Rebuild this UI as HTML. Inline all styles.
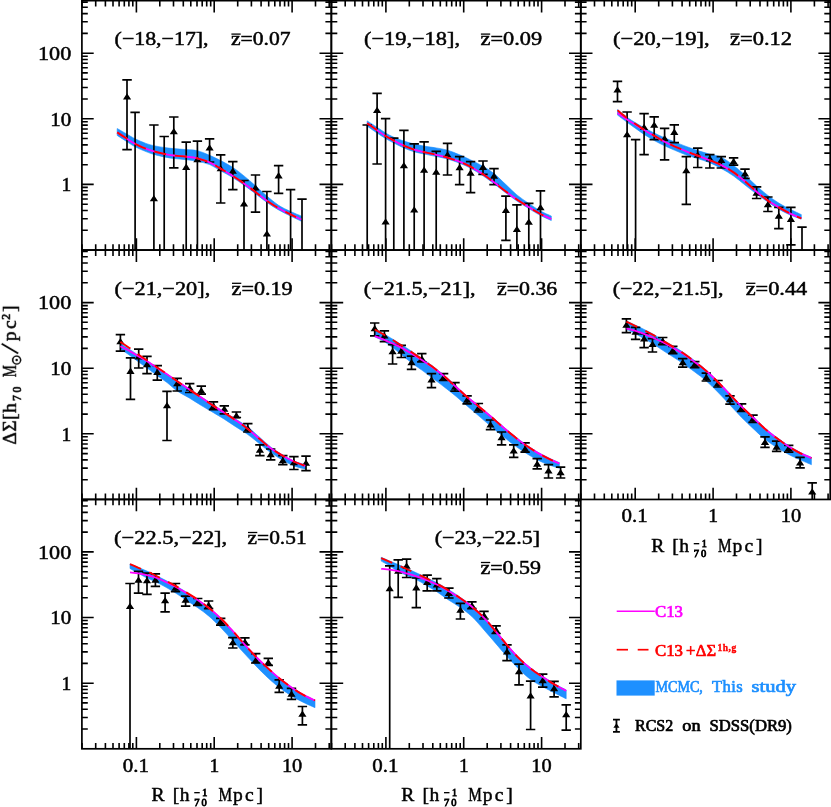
<!DOCTYPE html><html><head><meta charset="utf-8"><style>html,body{margin:0;padding:0;background:#fff}svg{display:block}</style></head><body><svg width="831" height="807" viewBox="0 0 831 807">
<rect width="831" height="807" fill="#fff"/>
<clipPath id="cp0"><rect x="81.90" y="0.65" width="249.40" height="249.40"/></clipPath>
<g clip-path="url(#cp0)">
<path d="M117.20,128.50 C118.84,129.45 124.07,132.48 127.05,134.20 C130.03,135.92 131.96,137.27 135.10,138.80 C138.24,140.33 142.77,142.25 145.90,143.40 C149.03,144.55 150.85,145.02 153.90,145.70 C156.95,146.38 160.88,147.02 164.20,147.50 C167.52,147.98 170.13,148.25 173.80,148.60 C177.47,148.95 182.27,149.25 186.20,149.60 C190.13,149.95 193.50,149.75 197.40,150.70 C201.30,151.65 205.73,153.65 209.60,155.30 C213.47,156.95 216.73,158.58 220.60,160.60 C224.47,162.62 228.90,164.85 232.80,167.40 C236.70,169.95 240.22,172.83 244.00,175.90 C247.78,178.97 251.68,182.43 255.50,185.80 C259.32,189.17 263.05,192.85 266.90,196.10 C270.75,199.35 274.65,202.73 278.60,205.30 C282.55,207.87 286.82,209.72 290.60,211.50 C294.38,213.28 299.52,215.25 301.30,216.00 L301.30,221.20 C299.52,220.35 294.38,217.98 290.60,216.10 C286.82,214.22 282.55,212.18 278.60,209.90 C274.65,207.62 270.75,205.10 266.90,202.40 C263.05,199.70 259.32,196.57 255.50,193.70 C251.68,190.83 247.78,187.88 244.00,185.20 C240.22,182.52 236.70,180.00 232.80,177.60 C228.90,175.20 224.47,172.97 220.60,170.80 C216.73,168.63 213.47,166.18 209.60,164.60 C205.73,163.02 201.30,162.12 197.40,161.30 C193.50,160.48 190.13,160.17 186.20,159.70 C182.27,159.23 177.47,158.97 173.80,158.50 C170.13,158.03 167.52,157.58 164.20,156.90 C160.88,156.22 156.95,155.28 153.90,154.40 C150.85,153.52 149.03,152.87 145.90,151.60 C142.77,150.33 138.24,148.43 135.10,146.80 C131.96,145.17 130.03,143.70 127.05,141.80 C124.07,139.90 118.84,136.47 117.20,135.40 Z" fill="#1E90FF" stroke="#1E90FF" stroke-width="0.6"/>
<path d="M127.0,79.9V149.6M122.3,79.9H131.8M122.3,149.6H131.8M135.1,112.4V255.1M130.4,112.4H139.8M153.9,125.0V255.1M149.2,125.0H158.6M164.2,136.5V255.1M159.5,136.5H168.9M173.8,117.0V167.9M169.1,117.0H178.5M169.1,167.9H178.5M186.2,142.2V255.1M181.5,142.2H190.9M197.4,141.1V255.1M192.7,141.1H202.1M209.6,138.8V162.0M204.9,138.8H214.3M204.9,162.0H214.3M220.7,154.8V203.0M216.0,154.8H225.4M216.0,203.0H225.4M232.8,161.7V189.7M228.1,161.7H237.5M228.1,189.7H237.5M244.0,180.5V255.1M239.3,180.5H248.7M255.5,175.0V212.1M250.8,175.0H260.2M250.8,212.1H260.2M266.9,191.5V255.1M262.2,191.5H271.6M278.6,165.6V193.3M273.9,165.6H283.3M273.9,193.3H283.3M290.6,189.7V255.1M285.9,189.7H295.3M302.0,199.1V255.1M297.3,199.1H306.7" stroke="#000" stroke-width="1.7" fill="none"/>
<path d="M127.0,93.2L131.2,99.5H123.0ZM153.9,195.0L158.0,201.3H149.8ZM173.8,128.0L177.9,134.3H169.7ZM186.2,163.6L190.3,169.9H182.1ZM197.4,156.0L201.5,162.3H193.3ZM209.6,144.2L213.7,150.5H205.5ZM220.7,165.0L224.8,171.3H216.6ZM232.8,167.5L236.9,173.8H228.7ZM244.0,200.3L248.1,206.6H239.9ZM255.5,184.2L259.6,190.5H251.4ZM266.9,230.3L271.0,236.6H262.8ZM278.6,172.1L282.7,178.4H274.5Z" fill="#000"/>
<path d="M117.20,132.40 C118.84,133.47 124.07,136.90 127.05,138.80 C130.03,140.70 131.96,142.17 135.10,143.80 C138.24,145.43 142.77,147.33 145.90,148.60 C149.03,149.87 150.85,150.52 153.90,151.40 C156.95,152.28 160.88,153.22 164.20,153.90 C167.52,154.58 170.13,155.03 173.80,155.50 C177.47,155.97 182.27,156.23 186.20,156.70 C190.13,157.17 193.50,157.35 197.40,158.30 C201.30,159.25 205.73,160.68 209.60,162.40 C213.47,164.12 216.73,166.35 220.60,168.60 C224.47,170.85 228.90,173.42 232.80,175.90 C236.70,178.38 240.22,180.82 244.00,183.50 C247.78,186.18 251.68,189.13 255.50,192.00 C259.32,194.87 263.05,198.00 266.90,200.70 C270.75,203.40 274.65,205.92 278.60,208.20 C282.55,210.48 286.82,212.52 290.60,214.40 C294.38,216.28 299.52,218.65 301.30,219.50" fill="none" stroke="#FF00FF" stroke-width="1.8"/>
<path d="M117.20,132.40 C118.84,133.47 124.07,136.90 127.05,138.80 C130.03,140.70 131.96,142.17 135.10,143.80 C138.24,145.43 142.77,147.33 145.90,148.60 C149.03,149.87 150.85,150.52 153.90,151.40 C156.95,152.28 160.88,153.22 164.20,153.90 C167.52,154.58 170.13,155.03 173.80,155.50 C177.47,155.97 182.27,156.23 186.20,156.70 C190.13,157.17 193.50,157.35 197.40,158.30 C201.30,159.25 205.73,160.68 209.60,162.40 C213.47,164.12 216.73,166.35 220.60,168.60 C224.47,170.85 228.90,173.42 232.80,175.90 C236.70,178.38 240.22,180.82 244.00,183.50 C247.78,186.18 251.68,189.13 255.50,192.00 C259.32,194.87 263.05,198.00 266.90,200.70 C270.75,203.40 274.65,205.92 278.60,208.20 C282.55,210.48 286.82,212.52 290.60,214.40 C294.38,216.28 299.52,218.65 301.30,219.50" fill="none" stroke="#FF0000" stroke-width="1.9" stroke-dasharray="12 9" stroke-dashoffset="0"/>
</g>
<clipPath id="cp1"><rect x="331.40" y="0.65" width="249.40" height="249.40"/></clipPath>
<g clip-path="url(#cp1)">
<path d="M367.20,120.90 C368.85,121.97 374.03,125.28 377.10,127.30 C380.17,129.32 382.82,131.35 385.60,133.00 C388.38,134.65 390.75,135.85 393.80,137.20 C396.85,138.55 400.50,139.97 403.90,141.10 C407.30,142.23 410.83,143.17 414.20,144.00 C417.57,144.83 420.43,145.45 424.10,146.10 C427.77,146.75 432.30,147.22 436.20,147.90 C440.10,148.58 443.60,149.05 447.50,150.20 C451.40,151.35 455.75,153.18 459.60,154.80 C463.45,156.42 466.70,157.98 470.60,159.90 C474.50,161.82 479.10,164.02 483.00,166.30 C486.90,168.58 490.18,170.55 494.00,173.60 C497.82,176.65 502.08,181.05 505.90,184.60 C509.72,188.15 513.08,191.77 516.90,194.90 C520.72,198.03 524.87,200.72 528.80,203.40 C532.73,206.08 536.75,208.90 540.50,211.00 C544.25,213.10 549.50,215.17 551.30,216.00 L551.30,220.50 C549.50,219.67 544.25,217.48 540.50,215.50 C536.75,213.52 532.73,211.02 528.80,208.60 C524.87,206.18 520.72,203.60 516.90,201.00 C513.08,198.40 509.72,195.87 505.90,193.00 C502.08,190.13 497.82,186.67 494.00,183.80 C490.18,180.93 486.90,178.40 483.00,175.80 C479.10,173.20 474.50,170.30 470.60,168.20 C466.70,166.10 463.45,164.73 459.60,163.20 C455.75,161.67 451.40,160.12 447.50,159.00 C443.60,157.88 440.10,157.33 436.20,156.50 C432.30,155.67 427.77,154.78 424.10,154.00 C420.43,153.22 417.57,152.80 414.20,151.80 C410.83,150.80 407.30,149.47 403.90,148.00 C400.50,146.53 396.85,144.58 393.80,143.00 C390.75,141.42 388.38,140.17 385.60,138.50 C382.82,136.83 380.17,135.05 377.10,133.00 C374.03,130.95 368.85,127.33 367.20,126.20 Z" fill="#1E90FF" stroke="#1E90FF" stroke-width="0.6"/>
<path d="M367.2,125.0V255.1M362.5,125.0H371.9M377.1,93.4V164.0M372.4,93.4H381.8M372.4,164.0H381.8M385.6,118.6V255.1M380.9,118.6H390.3M393.8,138.1V255.1M389.1,138.1H398.5M403.9,130.3V255.1M399.2,130.3H408.6M414.2,143.8V255.1M409.5,143.8H418.9M424.1,141.8V255.1M419.4,141.8H428.8M436.2,151.4V255.1M431.5,151.4H440.9M447.5,143.4V175.0M442.8,143.4H452.2M442.8,175.0H452.2M459.6,156.7V184.6M454.9,156.7H464.3M454.9,184.6H464.3M470.6,161.7V192.7M465.9,161.7H475.3M465.9,192.7H475.3M483.0,161.0V174.3M478.3,161.0H487.7M478.3,174.3H487.7M494.0,168.6V184.6M489.3,168.6H498.7M489.3,184.6H498.7M505.9,196.1V240.3M501.2,196.1H510.6M501.2,240.3H510.6M516.9,204.8V255.1M512.2,204.8H521.6M528.8,203.4V255.1M524.1,203.4H533.5M540.5,190.8V255.1M535.8,190.8H545.2" stroke="#000" stroke-width="1.7" fill="none"/>
<path d="M377.1,106.7L381.2,113.0H373.0ZM385.6,218.3L389.7,224.6H381.5ZM403.9,162.0L408.0,168.3H399.8ZM414.2,206.2L418.3,212.5H410.1ZM424.1,166.5L428.2,172.8H420.0ZM436.2,168.4L440.3,174.7H432.1ZM447.5,151.2L451.6,157.5H443.4ZM459.6,163.9L463.7,170.2H455.5ZM470.6,169.5L474.7,175.8H466.5ZM483.0,163.6L487.1,169.9H478.9ZM494.0,172.5L498.1,178.8H489.9ZM505.9,206.7L510.0,213.0H501.8ZM516.9,225.8L521.0,232.1H512.8ZM528.8,218.4L532.9,224.7H524.7ZM540.5,203.9L544.6,210.2H536.4Z" fill="#000"/>
<path d="M367.20,123.20 C368.85,124.38 374.03,128.17 377.10,130.30 C380.17,132.43 382.82,134.28 385.60,136.00 C388.38,137.72 390.75,138.98 393.80,140.60 C396.85,142.22 400.50,144.20 403.90,145.70 C407.30,147.20 410.83,148.53 414.20,149.60 C417.57,150.67 420.43,151.23 424.10,152.10 C427.77,152.97 432.30,153.88 436.20,154.80 C440.10,155.72 443.60,156.45 447.50,157.60 C451.40,158.75 455.75,160.18 459.60,161.70 C463.45,163.22 466.70,164.60 470.60,166.70 C474.50,168.80 479.10,171.70 483.00,174.30 C486.90,176.90 490.18,179.43 494.00,182.30 C497.82,185.17 502.08,188.63 505.90,191.50 C509.72,194.37 513.08,196.90 516.90,199.50 C520.72,202.10 524.87,204.68 528.80,207.10 C532.73,209.52 536.75,212.02 540.50,214.00 C544.25,215.98 549.50,218.17 551.30,219.00" fill="none" stroke="#FF00FF" stroke-width="1.8"/>
<path d="M367.20,123.20 C368.85,124.38 374.03,128.17 377.10,130.30 C380.17,132.43 382.82,134.28 385.60,136.00 C388.38,137.72 390.75,138.98 393.80,140.60 C396.85,142.22 400.50,144.20 403.90,145.70 C407.30,147.20 410.83,148.53 414.20,149.60 C417.57,150.67 420.43,151.23 424.10,152.10 C427.77,152.97 432.30,153.88 436.20,154.80 C440.10,155.72 443.60,156.45 447.50,157.60 C451.40,158.75 455.75,160.18 459.60,161.70 C463.45,163.22 466.70,164.60 470.60,166.70 C474.50,168.80 479.10,171.70 483.00,174.30 C486.90,176.90 490.18,179.43 494.00,182.30 C497.82,185.17 502.08,188.63 505.90,191.50 C509.72,194.37 513.08,196.90 516.90,199.50 C520.72,202.10 524.87,204.68 528.80,207.10 C532.73,209.52 536.75,212.02 540.50,214.00 C544.25,215.98 549.50,218.17 551.30,219.00" fill="none" stroke="#FF0000" stroke-width="1.9" stroke-dasharray="12 9" stroke-dashoffset="0"/>
</g>
<clipPath id="cp2"><rect x="580.75" y="0.65" width="249.40" height="249.40"/></clipPath>
<g clip-path="url(#cp2)">
<path d="M617.50,109.60 C619.10,110.88 624.08,115.10 627.10,117.30 C630.12,119.50 632.77,121.07 635.60,122.80 C638.43,124.53 641.00,126.00 644.10,127.70 C647.20,129.40 650.78,131.32 654.20,133.00 C657.62,134.68 661.25,136.35 664.60,137.80 C667.95,139.25 670.68,140.25 674.30,141.70 C677.92,143.15 682.40,145.02 686.30,146.50 C690.20,147.98 693.78,149.32 697.70,150.60 C701.62,151.88 705.87,153.10 709.80,154.20 C713.73,155.30 717.33,155.33 721.30,157.20 C725.27,159.07 729.65,162.42 733.60,165.40 C737.55,168.38 741.17,171.67 745.00,175.10 C748.83,178.53 752.78,182.62 756.60,186.00 C760.42,189.38 764.20,192.55 767.90,195.40 C771.60,198.25 774.97,200.73 778.80,203.10 C782.63,205.47 787.15,207.68 790.90,209.60 C794.65,211.52 799.57,213.77 801.30,214.60 L801.30,219.10 C799.57,218.47 794.65,216.95 790.90,215.30 C787.15,213.65 782.63,211.42 778.80,209.20 C774.97,206.98 771.60,204.52 767.90,202.00 C764.20,199.48 760.42,196.93 756.60,194.10 C752.78,191.27 748.83,188.02 745.00,185.00 C741.17,181.98 737.55,178.75 733.60,176.00 C729.65,173.25 725.27,170.72 721.30,168.50 C717.33,166.28 713.73,164.35 709.80,162.70 C705.87,161.05 701.62,159.88 697.70,158.60 C693.78,157.32 690.20,156.42 686.30,155.00 C682.40,153.58 677.92,151.63 674.30,150.10 C670.68,148.57 667.95,147.40 664.60,145.80 C661.25,144.20 657.62,142.40 654.20,140.50 C650.78,138.60 647.20,136.42 644.10,134.40 C641.00,132.38 638.43,130.42 635.60,128.40 C632.77,126.38 630.12,124.52 627.10,122.30 C624.08,120.08 619.10,116.30 617.50,115.10 Z" fill="#1E90FF" stroke="#1E90FF" stroke-width="0.6"/>
<path d="M617.5,81.3V101.6M612.8,81.3H622.2M612.8,101.6H622.2M627.1,112.0V255.1M622.4,112.0H631.8M635.6,139.7V255.1M630.9,139.7H640.3M644.1,113.6V154.7M639.4,113.6H648.8M639.4,154.7H648.8M654.2,116.8V139.7M649.5,116.8H658.9M649.5,139.7H658.9M664.6,128.4V159.8M659.9,128.4H669.3M659.9,159.8H669.3M674.3,124.8V142.6M669.6,124.8H679.0M669.6,142.6H679.0M686.3,156.7V204.3M681.6,156.7H691.0M681.6,204.3H691.0M697.7,148.2V167.5M693.0,148.2H702.4M693.0,167.5H702.4M709.8,154.7V168.0M705.1,154.7H714.5M705.1,168.0H714.5M721.3,156.7V168.0M716.6,156.7H726.0M716.6,168.0H726.0M733.6,157.9V165.1M728.9,157.9H738.3M728.9,165.1H738.3M745.0,169.2V178.4M740.3,169.2H749.7M740.3,178.4H749.7M756.6,186.9V198.5M751.9,186.9H761.3M751.9,198.5H761.3M767.9,197.0V211.5M763.2,197.0H772.6M763.2,211.5H772.6M778.8,207.4V228.7M774.1,207.4H783.5M774.1,228.7H783.5M790.9,207.4V244.9M786.2,207.4H795.6M786.2,244.9H795.6M802.0,227.2V255.1M797.3,227.2H806.7" stroke="#000" stroke-width="1.7" fill="none"/>
<path d="M617.5,86.3L621.6,92.6H613.4ZM627.1,131.0L631.2,137.3H623.0ZM644.1,123.7L648.2,130.0H640.0ZM654.2,121.4L658.3,127.7H650.1ZM664.6,135.0L668.7,141.3H660.5ZM674.3,128.6L678.4,134.9H670.2ZM686.3,167.0L690.4,173.3H682.2ZM697.7,151.5L701.8,157.8H693.6ZM709.8,155.3L713.9,161.6H705.7ZM721.3,156.8L725.4,163.1H717.2ZM733.6,158.0L737.7,164.3H729.5ZM745.0,170.2L749.1,176.5H740.9ZM756.6,189.4L760.7,195.7H752.5ZM767.9,201.0L772.0,207.3H763.8ZM778.8,212.4L782.9,218.7H774.7ZM790.9,215.6L795.0,221.9H786.8Z" fill="#000"/>
<path d="M617.50,113.00 C619.10,114.08 624.08,117.53 627.10,119.50 C630.12,121.47 632.77,123.05 635.60,124.80 C638.43,126.55 641.00,128.17 644.10,130.00 C647.20,131.83 650.78,133.85 654.20,135.80 C657.62,137.75 661.25,139.95 664.60,141.70 C667.95,143.45 670.68,144.70 674.30,146.30 C677.92,147.90 682.40,149.73 686.30,151.30 C690.20,152.87 693.78,154.20 697.70,155.70 C701.62,157.20 705.87,158.73 709.80,160.30 C713.73,161.87 717.33,163.08 721.30,165.10 C725.27,167.12 729.65,169.70 733.60,172.40 C737.55,175.10 741.17,178.08 745.00,181.30 C748.83,184.52 752.78,188.48 756.60,191.70 C760.42,194.92 764.20,197.98 767.90,200.60 C771.60,203.22 774.97,205.18 778.80,207.40 C782.63,209.62 787.15,212.08 790.90,213.90 C794.65,215.72 799.57,217.57 801.30,218.30" fill="none" stroke="#FF00FF" stroke-width="1.8"/>
<path d="M617.50,110.30 C619.10,111.58 624.08,115.72 627.10,118.00 C630.12,120.28 632.77,122.07 635.60,124.00 C638.43,125.93 641.00,127.67 644.10,129.60 C647.20,131.53 650.78,133.58 654.20,135.60 C657.62,137.62 661.25,139.92 664.60,141.70 C667.95,143.48 670.68,144.70 674.30,146.30 C677.92,147.90 682.40,149.73 686.30,151.30 C690.20,152.87 693.78,154.20 697.70,155.70 C701.62,157.20 705.87,158.73 709.80,160.30 C713.73,161.87 717.33,163.08 721.30,165.10 C725.27,167.12 729.65,169.70 733.60,172.40 C737.55,175.10 741.17,178.08 745.00,181.30 C748.83,184.52 752.78,188.48 756.60,191.70 C760.42,194.92 764.20,197.98 767.90,200.60 C771.60,203.22 774.97,205.18 778.80,207.40 C782.63,209.62 787.15,212.08 790.90,213.90 C794.65,215.72 799.57,217.57 801.30,218.30" fill="none" stroke="#FF0000" stroke-width="1.9" stroke-dasharray="12 9" stroke-dashoffset="0"/>
</g>
<clipPath id="cp3"><rect x="81.90" y="250.05" width="249.40" height="249.40"/></clipPath>
<g clip-path="url(#cp3)">
<path d="M120.40,343.40 C122.08,344.48 127.45,347.90 130.50,349.90 C133.55,351.90 135.95,353.60 138.70,355.40 C141.45,357.20 143.90,358.68 147.00,360.70 C150.10,362.72 153.97,365.28 157.30,367.50 C160.63,369.72 163.68,371.78 167.00,374.00 C170.32,376.22 173.42,378.30 177.20,380.80 C180.98,383.30 185.68,386.30 189.70,389.00 C193.72,391.70 197.33,394.33 201.30,397.00 C205.27,399.67 209.67,402.50 213.50,405.00 C217.33,407.50 220.48,409.58 224.30,412.00 C228.12,414.42 232.48,417.00 236.40,419.50 C240.32,422.00 243.88,424.00 247.80,427.00 C251.72,430.00 256.08,434.17 259.90,437.50 C263.72,440.83 266.88,444.08 270.70,447.00 C274.52,449.92 278.93,452.67 282.80,455.00 C286.67,457.33 290.15,459.38 293.90,461.00 C297.65,462.62 303.40,464.08 305.30,464.70 L305.30,469.00 C303.40,468.48 297.65,467.35 293.90,465.90 C290.15,464.45 286.67,462.52 282.80,460.30 C278.93,458.08 274.52,455.30 270.70,452.60 C266.88,449.90 263.72,447.12 259.90,444.10 C256.08,441.08 251.72,437.32 247.80,434.50 C243.88,431.68 240.32,429.75 236.40,427.20 C232.48,424.65 228.12,421.62 224.30,419.20 C220.48,416.78 217.33,414.98 213.50,412.70 C209.67,410.42 205.27,407.92 201.30,405.50 C197.33,403.08 193.72,400.62 189.70,398.20 C185.68,395.78 180.98,393.62 177.20,391.00 C173.42,388.38 170.32,385.05 167.00,382.50 C163.68,379.95 160.63,378.12 157.30,375.70 C153.97,373.28 150.10,370.28 147.00,368.00 C143.90,365.72 141.45,364.02 138.70,362.00 C135.95,359.98 133.55,358.05 130.50,355.90 C127.45,353.75 122.08,350.23 120.40,349.10 Z" fill="#1E90FF" stroke="#1E90FF" stroke-width="0.6"/>
<path d="M120.4,334.6V351.1M115.7,334.6H125.1M115.7,351.1H125.1M130.5,357.8V399.4M125.8,357.8H135.2M125.8,399.4H135.2M138.7,349.1V368.0M134.0,349.1H143.4M134.0,368.0H143.4M147.0,356.4V373.6M142.3,356.4H151.7M142.3,373.6H151.7M157.3,365.6V380.1M152.6,365.6H162.0M152.6,380.1H162.0M167.0,391.4V440.5M162.3,391.4H171.7M162.3,440.5H171.7M177.2,378.4V391.0M172.5,378.4H181.9M172.5,391.0H181.9M189.7,383.7V392.5M185.0,383.7H194.4M185.0,392.5H194.4M201.3,386.1V394.1M196.6,386.1H206.0M196.6,394.1H206.0M213.5,401.8V409.6M208.8,401.8H218.2M208.8,409.6H218.2M224.3,405.9V413.9M219.6,405.9H229.0M219.6,413.9H229.0M236.4,412.0V417.5M231.7,412.0H241.1M231.7,417.5H241.1M247.8,423.6V432.0M243.1,423.6H252.5M243.1,432.0H252.5M259.9,444.8V455.7M255.2,444.8H264.6M255.2,455.7H264.6M270.7,449.0V459.8M266.0,449.0H275.4M266.0,459.8H275.4M282.8,455.7V464.7M278.1,455.7H287.5M278.1,464.7H287.5M293.9,456.7V469.5M289.2,456.7H298.6M289.2,469.5H298.6M306.0,456.2V470.7M301.3,456.2H310.7M301.3,470.7H310.7" stroke="#000" stroke-width="1.7" fill="none"/>
<path d="M120.4,337.9L124.5,344.2H116.3ZM130.5,367.6L134.6,373.9H126.4ZM138.7,353.1L142.8,359.4H134.6ZM147.0,361.0L151.1,367.3H142.9ZM157.3,368.8L161.4,375.1H153.2ZM167.0,402.0L171.1,408.3H162.9ZM177.2,380.0L181.3,386.3H173.1ZM189.7,384.5L193.8,390.8H185.6ZM201.3,387.2L205.4,393.5H197.2ZM213.5,402.6L217.6,408.9H209.4ZM224.3,405.5L228.4,411.8H220.2ZM236.4,412.3L240.5,418.6H232.3ZM247.8,425.0L251.9,431.3H243.7ZM259.9,446.5L264.0,452.8H255.8ZM270.7,451.0L274.8,457.3H266.6ZM282.8,457.0L286.9,463.3H278.7ZM293.9,459.0L298.0,465.3H289.8ZM306.0,459.4L310.1,465.7H301.9Z" fill="#000"/>
<path d="M120.40,346.20 C122.08,347.10 127.45,349.90 130.50,351.60 C133.55,353.30 135.95,354.80 138.70,356.40 C141.45,358.00 143.90,359.27 147.00,361.20 C150.10,363.13 153.97,365.83 157.30,368.00 C160.63,370.17 163.68,371.98 167.00,374.20 C170.32,376.42 173.42,378.70 177.20,381.30 C180.98,383.90 185.68,387.10 189.70,389.80 C193.72,392.50 197.33,394.82 201.30,397.50 C205.27,400.18 209.67,403.37 213.50,405.90 C217.33,408.43 220.48,410.23 224.30,412.70 C228.12,415.17 232.48,418.00 236.40,420.70 C240.32,423.40 243.88,425.80 247.80,428.90 C251.72,432.00 256.08,436.08 259.90,439.30 C263.72,442.52 266.88,445.47 270.70,448.20 C274.52,450.93 278.93,453.48 282.80,455.70 C286.67,457.92 290.15,459.80 293.90,461.50 C297.65,463.20 303.40,465.17 305.30,465.90" fill="none" stroke="#FF00FF" stroke-width="1.8"/>
<path d="M120.40,341.90 C122.08,343.03 127.45,346.57 130.50,348.70 C133.55,350.83 135.95,352.77 138.70,354.70 C141.45,356.63 143.90,358.17 147.00,360.30 C150.10,362.43 153.97,365.22 157.30,367.50 C160.63,369.78 163.68,371.70 167.00,374.00 C170.32,376.30 173.42,378.67 177.20,381.30 C180.98,383.93 185.68,387.10 189.70,389.80 C193.72,392.50 197.33,394.82 201.30,397.50 C205.27,400.18 209.67,403.37 213.50,405.90 C217.33,408.43 220.48,410.23 224.30,412.70 C228.12,415.17 232.48,418.00 236.40,420.70 C240.32,423.40 243.88,425.80 247.80,428.90 C251.72,432.00 256.08,436.08 259.90,439.30 C263.72,442.52 266.88,445.47 270.70,448.20 C274.52,450.93 278.93,453.48 282.80,455.70 C286.67,457.92 290.15,459.80 293.90,461.50 C297.65,463.20 303.40,465.17 305.30,465.90" fill="none" stroke="#FF0000" stroke-width="1.9" stroke-dasharray="12 9" stroke-dashoffset="0"/>
</g>
<clipPath id="cp4"><rect x="331.40" y="250.05" width="249.40" height="249.40"/></clipPath>
<g clip-path="url(#cp4)">
<path d="M374.70,328.70 C376.32,329.62 381.42,332.47 384.40,334.20 C387.38,335.93 389.78,337.37 392.60,339.10 C395.42,340.83 398.15,342.58 401.30,344.60 C404.45,346.62 408.08,348.90 411.50,351.20 C414.92,353.50 418.47,356.07 421.80,358.40 C425.13,360.73 427.87,362.47 431.50,365.20 C435.13,367.93 439.68,371.47 443.60,374.80 C447.52,378.13 451.08,381.63 455.00,385.20 C458.92,388.77 463.20,392.83 467.10,396.20 C471.00,399.57 474.50,402.18 478.40,405.40 C482.30,408.62 486.63,412.20 490.50,415.50 C494.37,418.80 497.73,421.90 501.60,425.20 C505.47,428.50 509.78,432.17 513.70,435.30 C517.62,438.43 521.18,441.25 525.10,444.00 C529.02,446.75 533.30,449.50 537.20,451.80 C541.10,454.10 544.80,455.98 548.50,457.80 C552.20,459.62 557.58,461.88 559.40,462.70 L559.40,468.30 C557.58,467.70 552.20,466.12 548.50,464.70 C544.80,463.28 541.10,461.82 537.20,459.80 C533.30,457.78 529.02,455.10 525.10,452.60 C521.18,450.10 517.62,447.70 513.70,444.80 C509.78,441.90 505.47,438.33 501.60,435.20 C497.73,432.07 494.37,429.27 490.50,426.00 C486.63,422.73 482.30,418.95 478.40,415.60 C474.50,412.25 471.00,409.25 467.10,405.90 C463.20,402.55 458.92,398.73 455.00,395.50 C451.08,392.27 447.52,389.53 443.60,386.50 C439.68,383.47 435.13,380.03 431.50,377.30 C427.87,374.57 425.13,372.52 421.80,370.10 C418.47,367.68 414.92,365.42 411.50,362.80 C408.08,360.18 404.45,356.93 401.30,354.40 C398.15,351.87 395.42,349.73 392.60,347.60 C389.78,345.47 387.38,343.40 384.40,341.60 C381.42,339.80 376.32,337.60 374.70,336.80 Z" fill="#1E90FF" stroke="#1E90FF" stroke-width="0.6"/>
<path d="M374.7,323.0V335.8M370.0,323.0H379.4M370.0,335.8H379.4M384.4,330.9V341.6M379.7,330.9H389.1M379.7,341.6H389.1M392.6,344.7V364.0M387.9,344.7H397.3M387.9,364.0H397.3M401.3,345.4V357.5M396.6,345.4H406.0M396.6,357.5H406.0M411.5,356.1V369.4M406.8,356.1H416.2M406.8,369.4H416.2M421.8,353.6V361.8M417.1,353.6H426.5M417.1,361.8H426.5M431.5,373.7V387.7M426.8,373.7H436.2M426.8,387.7H436.2M443.6,373.7V380.5M438.9,373.7H448.3M438.9,380.5H448.3M455.0,382.6V391.1M450.3,382.6H459.7M450.3,391.1H459.7M467.1,395.8V403.8M462.4,395.8H471.8M462.4,403.8H471.8M478.4,403.5V412.0M473.7,403.5H483.1M473.7,412.0H483.1M490.5,420.0V429.6M485.8,420.0H495.2M485.8,429.6H495.2M501.6,432.0V444.8M496.9,432.0H506.3M496.9,444.8H506.3M513.7,444.8V457.4M509.0,444.8H518.4M509.0,457.4H518.4M525.1,442.9V452.1M520.4,442.9H529.8M520.4,452.1H529.8M537.2,458.6V468.8M532.5,458.6H541.9M532.5,468.8H541.9M548.5,464.7V478.0M543.8,464.7H553.2M543.8,478.0H553.2M560.6,467.1V478.0M555.9,467.1H565.3M555.9,478.0H565.3" stroke="#000" stroke-width="1.7" fill="none"/>
<path d="M374.7,325.0L378.8,331.3H370.6ZM384.4,332.2L388.5,338.5H380.3ZM392.6,348.0L396.7,354.3H388.5ZM401.3,347.5L405.4,353.8H397.2ZM411.5,359.0L415.6,365.3H407.4ZM421.8,355.3L425.9,361.6H417.7ZM431.5,376.3L435.6,382.6H427.4ZM443.6,374.0L447.7,380.3H439.5ZM455.0,383.5L459.1,389.8H450.9ZM467.1,396.5L471.2,402.8H463.0ZM478.4,404.6L482.5,410.9H474.3ZM490.5,421.3L494.6,427.6H486.4ZM501.6,433.9L505.7,440.2H497.5ZM513.7,447.2L517.8,453.5H509.6ZM525.1,445.5L529.2,451.8H521.0ZM537.2,460.4L541.3,466.7H533.1ZM548.5,467.2L552.6,473.5H544.4ZM560.6,468.9L564.7,475.2H556.5Z" fill="#000"/>
<path d="M374.70,336.20 C376.32,336.82 381.42,338.68 384.40,339.90 C387.38,341.12 389.78,342.22 392.60,343.50 C395.42,344.78 398.15,345.92 401.30,347.60 C404.45,349.28 408.08,351.55 411.50,353.60 C414.92,355.65 418.47,357.75 421.80,359.90 C425.13,362.05 427.87,363.85 431.50,366.50 C435.13,369.15 439.68,372.55 443.60,375.80 C447.52,379.05 451.08,382.47 455.00,386.00 C458.92,389.53 463.20,393.63 467.10,397.00 C471.00,400.37 474.50,402.98 478.40,406.20 C482.30,409.42 486.63,413.00 490.50,416.30 C494.37,419.60 497.73,422.70 501.60,426.00 C505.47,429.30 509.78,432.97 513.70,436.10 C517.62,439.23 521.18,442.05 525.10,444.80 C529.02,447.55 533.30,450.30 537.20,452.60 C541.10,454.90 544.80,456.78 548.50,458.60 C552.20,460.42 557.58,462.68 559.40,463.50" fill="none" stroke="#FF00FF" stroke-width="1.8"/>
<path d="M374.70,329.50 C376.32,330.42 381.42,333.27 384.40,335.00 C387.38,336.73 389.78,338.17 392.60,339.90 C395.42,341.63 398.15,343.38 401.30,345.40 C404.45,347.42 408.08,349.70 411.50,352.00 C414.92,354.30 418.47,356.87 421.80,359.20 C425.13,361.53 427.87,363.27 431.50,366.00 C435.13,368.73 439.68,372.27 443.60,375.60 C447.52,378.93 451.08,382.43 455.00,386.00 C458.92,389.57 463.20,393.63 467.10,397.00 C471.00,400.37 474.50,402.98 478.40,406.20 C482.30,409.42 486.63,413.00 490.50,416.30 C494.37,419.60 497.73,422.70 501.60,426.00 C505.47,429.30 509.78,432.97 513.70,436.10 C517.62,439.23 521.18,442.05 525.10,444.80 C529.02,447.55 533.30,450.30 537.20,452.60 C541.10,454.90 544.80,456.78 548.50,458.60 C552.20,460.42 557.58,462.68 559.40,463.50" fill="none" stroke="#FF0000" stroke-width="1.9" stroke-dasharray="12 9" stroke-dashoffset="0"/>
</g>
<clipPath id="cp5"><rect x="580.75" y="250.05" width="249.40" height="249.40"/></clipPath>
<g clip-path="url(#cp5)">
<path d="M626.40,320.90 C627.93,321.63 632.65,323.88 635.60,325.30 C638.55,326.72 641.28,327.98 644.10,329.40 C646.92,330.82 649.40,332.07 652.50,333.80 C655.60,335.53 659.32,337.80 662.70,339.80 C666.08,341.80 669.47,343.78 672.80,345.80 C676.13,347.82 679.03,349.40 682.70,351.90 C686.37,354.40 690.87,357.75 694.80,360.80 C698.73,363.85 702.45,366.80 706.30,370.20 C710.15,373.60 713.95,377.27 717.90,381.20 C721.85,385.13 726.05,389.68 730.00,393.80 C733.95,397.92 737.77,402.08 741.60,405.90 C745.43,409.72 749.10,413.00 753.00,416.70 C756.90,420.40 761.07,424.67 765.00,428.10 C768.93,431.53 772.65,434.37 776.60,437.30 C780.55,440.23 784.78,443.20 788.70,445.70 C792.62,448.20 796.32,450.37 800.10,452.30 C803.88,454.23 809.52,456.47 811.40,457.30 L811.40,464.70 C809.52,463.88 803.88,461.50 800.10,459.80 C796.32,458.10 792.62,456.58 788.70,454.50 C784.78,452.42 780.55,449.83 776.60,447.30 C772.65,444.77 768.93,442.45 765.00,439.30 C761.07,436.15 756.90,432.03 753.00,428.40 C749.10,424.77 745.43,421.40 741.60,417.50 C737.77,413.60 733.95,409.22 730.00,405.00 C726.05,400.78 721.85,396.20 717.90,392.20 C713.95,388.20 710.15,384.37 706.30,381.00 C702.45,377.63 698.73,374.95 694.80,372.00 C690.87,369.05 686.37,365.83 682.70,363.30 C679.03,360.77 676.13,358.97 672.80,356.80 C669.47,354.63 666.08,352.52 662.70,350.30 C659.32,348.08 655.60,345.43 652.50,343.50 C649.40,341.57 646.92,340.32 644.10,338.70 C641.28,337.08 638.55,335.37 635.60,333.80 C632.65,332.23 627.93,330.05 626.40,329.30 Z" fill="#1E90FF" stroke="#1E90FF" stroke-width="0.6"/>
<path d="M626.4,318.8V332.6M621.7,318.8H631.1M621.7,332.6H631.1M635.6,327.3V339.4M630.9,327.3H640.3M630.9,339.4H640.3M644.1,333.8V347.6M639.4,333.8H648.8M639.4,347.6H648.8M652.5,338.7V352.0M647.8,338.7H657.2M647.8,352.0H657.2M662.7,337.5V344.7M658.0,337.5H667.4M658.0,344.7H667.4M672.8,346.4V353.6M668.1,346.4H677.5M668.1,353.6H677.5M682.7,358.7V367.2M678.0,358.7H687.4M678.0,367.2H687.4M694.8,361.6V367.7M690.1,361.6H699.5M690.1,367.7H699.5M706.3,373.2V381.0M701.6,373.2H711.0M701.6,381.0H711.0M718.0,380.5V387.0M713.3,380.5H722.7M713.3,387.0H722.7M730.0,395.8V404.2M725.3,395.8H734.7M725.3,404.2H734.7M741.6,403.8V411.5M736.9,403.8H746.3M736.9,411.5H746.3M753.0,415.1V422.4M748.3,415.1H757.7M748.3,422.4H757.7M765.0,436.9V447.3M760.3,436.9H769.7M760.3,447.3H769.7M776.6,441.2V451.4M771.9,441.2H781.3M771.9,451.4H781.3M788.7,445.3V452.1M784.0,445.3H793.4M784.0,452.1H793.4M800.1,457.4V467.8M795.4,457.4H804.8M795.4,467.8H804.8M812.2,482.8V504.5M807.5,482.8H816.9" stroke="#000" stroke-width="1.7" fill="none"/>
<path d="M626.4,321.4L630.5,327.7H622.3ZM635.6,328.5L639.7,334.8H631.5ZM644.1,335.2L648.2,341.5H640.0ZM652.5,340.8L656.6,347.1H648.4ZM662.7,337.4L666.8,343.7H658.6ZM672.8,347.0L676.9,353.3H668.7ZM682.7,359.0L686.8,365.3H678.6ZM694.8,361.0L698.9,367.3H690.7ZM706.3,374.0L710.4,380.3H702.2ZM718.0,380.0L722.1,386.3H713.9ZM730.0,396.0L734.1,402.3H725.9ZM741.6,404.7L745.7,411.0H737.5ZM753.0,415.5L757.1,421.8H748.9ZM765.0,438.7L769.1,445.0H760.9ZM776.6,443.5L780.7,449.8H772.5ZM788.7,445.0L792.8,451.3H784.6ZM800.1,459.2L804.2,465.5H796.0ZM812.2,488.2L816.3,494.5H808.1Z" fill="#000"/>
<path d="M626.40,328.50 C627.93,328.90 632.65,330.02 635.60,330.90 C638.55,331.78 641.28,332.70 644.10,333.80 C646.92,334.90 649.40,336.08 652.50,337.50 C655.60,338.92 659.32,340.58 662.70,342.30 C666.08,344.02 669.47,345.92 672.80,347.80 C676.13,349.68 679.03,351.22 682.70,353.60 C686.37,355.98 690.87,359.20 694.80,362.10 C698.73,365.00 702.45,367.68 706.30,371.00 C710.15,374.32 713.95,378.07 717.90,382.00 C721.85,385.93 726.05,390.48 730.00,394.60 C733.95,398.72 737.77,402.88 741.60,406.70 C745.43,410.52 749.10,413.80 753.00,417.50 C756.90,421.20 761.07,425.47 765.00,428.90 C768.93,432.33 772.65,435.17 776.60,438.10 C780.55,441.03 784.78,444.00 788.70,446.50 C792.62,449.00 796.32,451.17 800.10,453.10 C803.88,455.03 809.52,457.27 811.40,458.10" fill="none" stroke="#FF00FF" stroke-width="1.8"/>
<path d="M626.40,321.70 C627.93,322.43 632.65,324.68 635.60,326.10 C638.55,327.52 641.28,328.78 644.10,330.20 C646.92,331.62 649.40,332.87 652.50,334.60 C655.60,336.33 659.32,338.60 662.70,340.60 C666.08,342.60 669.47,344.58 672.80,346.60 C676.13,348.62 679.03,350.20 682.70,352.70 C686.37,355.20 690.87,358.55 694.80,361.60 C698.73,364.65 702.45,367.60 706.30,371.00 C710.15,374.40 713.95,378.07 717.90,382.00 C721.85,385.93 726.05,390.48 730.00,394.60 C733.95,398.72 737.77,402.88 741.60,406.70 C745.43,410.52 749.10,413.80 753.00,417.50 C756.90,421.20 761.07,425.47 765.00,428.90 C768.93,432.33 772.65,435.17 776.60,438.10 C780.55,441.03 784.78,444.00 788.70,446.50 C792.62,449.00 796.32,451.17 800.10,453.10 C803.88,455.03 809.52,457.27 811.40,458.10" fill="none" stroke="#FF0000" stroke-width="1.9" stroke-dasharray="12 9" stroke-dashoffset="0"/>
</g>
<clipPath id="cp6"><rect x="81.90" y="499.40" width="249.40" height="249.40"/></clipPath>
<g clip-path="url(#cp6)">
<path d="M130.00,563.90 C131.42,564.50 135.67,566.30 138.50,567.50 C141.33,568.70 144.18,569.82 147.00,571.10 C149.82,572.38 152.38,573.70 155.40,575.20 C158.42,576.70 161.75,578.37 165.10,580.10 C168.45,581.83 172.08,583.67 175.50,585.60 C178.92,587.53 181.90,589.40 185.60,591.70 C189.30,594.00 193.87,596.78 197.70,599.40 C201.53,602.02 204.77,604.30 208.60,607.40 C212.43,610.50 216.67,614.10 220.70,618.00 C224.73,621.90 228.77,626.37 232.80,630.80 C236.83,635.23 241.08,640.37 244.90,644.60 C248.72,648.83 251.80,652.25 255.70,656.20 C259.60,660.15 264.38,664.68 268.30,668.30 C272.22,671.92 275.33,674.77 279.20,677.90 C283.07,681.03 287.63,684.40 291.50,687.10 C295.37,689.80 298.48,691.92 302.40,694.10 C306.32,696.28 312.90,699.18 315.00,700.20 L315.00,707.70 C312.90,706.73 306.32,703.87 302.40,701.90 C298.48,699.93 295.37,698.32 291.50,695.90 C287.63,693.48 283.07,690.35 279.20,687.40 C275.33,684.45 272.22,681.82 268.30,678.20 C264.38,674.58 259.60,669.72 255.70,665.70 C251.80,661.68 248.72,658.25 244.90,654.10 C241.08,649.95 236.83,645.23 232.80,640.80 C228.77,636.37 224.73,631.65 220.70,627.50 C216.67,623.35 212.43,619.20 208.60,615.90 C204.77,612.60 201.53,610.40 197.70,607.70 C193.87,605.00 189.30,602.15 185.60,599.70 C181.90,597.25 178.92,595.15 175.50,593.00 C172.08,590.85 168.45,588.67 165.10,586.80 C161.75,584.93 158.42,583.27 155.40,581.80 C152.38,580.33 149.82,579.40 147.00,578.00 C144.18,576.60 141.33,574.98 138.50,573.40 C135.67,571.82 131.42,569.32 130.00,568.50 Z" fill="#1E90FF" stroke="#1E90FF" stroke-width="0.6"/>
<path d="M130.0,583.5V753.8M125.3,583.5H134.7M138.5,571.4V593.2M133.8,571.4H143.2M133.8,593.2H143.2M147.0,573.1V594.4M142.3,573.1H151.7M142.3,594.4H151.7M155.4,573.8V586.4M150.7,573.8H160.1M150.7,586.4H160.1M165.1,593.2V611.8M160.4,593.2H169.8M160.4,611.8H169.8M175.5,583.5V591.7M170.8,583.5H180.2M170.8,591.7H180.2M185.6,596.1V606.2M180.9,596.1H190.3M180.9,606.2H190.3M197.7,598.5V605.3M193.0,598.5H202.4M193.0,605.3H202.4M208.6,601.0V608.6M203.9,601.0H213.3M203.9,608.6H213.3M220.7,618.3V625.1M216.0,618.3H225.4M216.0,625.1H225.4M232.8,637.6V648.0M228.1,637.6H237.5M228.1,648.0H237.5M244.9,637.9V644.8M240.2,637.9H249.6M240.2,644.8H249.6M255.7,653.6V663.0M251.0,653.6H260.4M251.0,663.0H260.4M268.3,658.4V665.4M263.6,658.4H273.0M263.6,665.4H273.0M279.2,679.9V692.3M274.5,679.9H283.9M274.5,692.3H283.9M291.5,688.4V699.3M286.8,688.4H296.2M286.8,699.3H296.2M302.4,706.5V724.9M297.7,706.5H307.1M297.7,724.9H307.1" stroke="#000" stroke-width="1.7" fill="none"/>
<path d="M130.0,602.7L134.1,609.0H125.9ZM138.5,576.4L142.6,582.7H134.4ZM147.0,577.0L151.1,583.3H142.9ZM155.4,576.4L159.5,582.7H151.3ZM165.1,596.9L169.2,603.2H161.0ZM175.5,584.4L179.6,590.7H171.4ZM185.6,596.5L189.7,602.8H181.5ZM197.7,599.0L201.8,605.3H193.6ZM208.6,601.8L212.7,608.1H204.5ZM220.7,618.2L224.8,624.5H216.6ZM232.8,639.0L236.9,645.3H228.7ZM244.9,638.5L249.0,644.8H240.8ZM255.7,657.0L259.8,663.3H251.6ZM268.3,659.0L272.4,665.3H264.2ZM279.2,682.5L283.3,688.8H275.1ZM291.5,690.5L295.6,696.8H287.4ZM302.4,710.5L306.5,716.8H298.3Z" fill="#000"/>
<path d="M130.00,572.40 C131.42,572.57 135.67,572.95 138.50,573.40 C141.33,573.85 144.18,574.42 147.00,575.10 C149.82,575.78 152.38,576.42 155.40,577.50 C158.42,578.58 161.75,580.07 165.10,581.60 C168.45,583.13 172.08,584.88 175.50,586.70 C178.92,588.52 181.90,590.30 185.60,592.50 C189.30,594.70 193.87,597.37 197.70,599.90 C201.53,602.43 204.77,604.63 208.60,607.70 C212.43,610.77 216.67,614.40 220.70,618.30 C224.73,622.20 228.77,626.67 232.80,631.10 C236.83,635.53 241.08,640.67 244.90,644.90 C248.72,649.13 251.80,652.55 255.70,656.50 C259.60,660.45 264.38,664.98 268.30,668.60 C272.22,672.22 275.33,675.07 279.20,678.20 C283.07,681.33 287.63,684.70 291.50,687.40 C295.37,690.10 298.48,692.22 302.40,694.40 C306.32,696.58 312.90,699.48 315.00,700.50" fill="none" stroke="#FF00FF" stroke-width="1.8"/>
<path d="M130.00,564.20 C131.42,564.80 135.67,566.60 138.50,567.80 C141.33,569.00 144.18,570.12 147.00,571.40 C149.82,572.68 152.38,574.00 155.40,575.50 C158.42,577.00 161.75,578.67 165.10,580.40 C168.45,582.13 172.08,583.97 175.50,585.90 C178.92,587.83 181.90,589.70 185.60,592.00 C189.30,594.30 193.87,597.08 197.70,599.70 C201.53,602.32 204.77,604.60 208.60,607.70 C212.43,610.80 216.67,614.40 220.70,618.30 C224.73,622.20 228.77,626.67 232.80,631.10 C236.83,635.53 241.08,640.67 244.90,644.90 C248.72,649.13 251.80,652.55 255.70,656.50 C259.60,660.45 264.38,664.98 268.30,668.60 C272.22,672.22 275.33,675.07 279.20,678.20 C283.07,681.33 287.63,684.70 291.50,687.40 C295.37,690.10 298.48,692.22 302.40,694.40 C306.32,696.58 312.90,699.48 315.00,700.50" fill="none" stroke="#FF0000" stroke-width="1.9" stroke-dasharray="12 9" stroke-dashoffset="0"/>
</g>
<clipPath id="cp7"><rect x="331.40" y="499.40" width="249.40" height="249.40"/></clipPath>
<g clip-path="url(#cp7)">
<path d="M381.20,557.30 C382.62,557.92 386.87,559.78 389.70,561.00 C392.53,562.22 395.38,563.40 398.20,564.60 C401.02,565.80 403.58,566.83 406.60,568.20 C409.62,569.57 412.87,571.18 416.30,572.80 C419.73,574.42 423.78,576.25 427.20,577.90 C430.62,579.55 433.18,580.73 436.80,582.70 C440.42,584.67 444.97,587.25 448.90,589.70 C452.83,592.15 456.57,594.70 460.40,597.40 C464.23,600.10 467.97,602.63 471.90,605.90 C475.83,609.17 479.97,612.82 484.00,617.00 C488.03,621.18 492.27,626.45 496.10,631.00 C499.93,635.55 503.18,639.87 507.00,644.30 C510.82,648.73 515.07,653.68 519.00,657.60 C522.93,661.52 526.65,664.70 530.60,667.80 C534.55,670.90 538.78,673.58 542.70,676.20 C546.62,678.82 550.18,681.20 554.10,683.50 C558.02,685.80 564.18,688.92 566.20,690.00 L566.20,698.80 C564.18,697.78 558.02,694.72 554.10,692.70 C550.18,690.68 546.62,688.90 542.70,686.70 C538.78,684.50 534.55,682.40 530.60,679.50 C526.65,676.60 522.93,673.13 519.00,669.30 C515.07,665.47 510.82,660.73 507.00,656.50 C503.18,652.27 499.93,648.33 496.10,643.90 C492.27,639.47 488.03,634.45 484.00,629.90 C479.97,625.35 475.83,620.33 471.90,616.60 C467.97,612.87 464.23,610.23 460.40,607.50 C456.57,604.77 452.83,602.83 448.90,600.20 C444.97,597.57 440.42,594.08 436.80,591.70 C433.18,589.32 430.62,587.92 427.20,585.90 C423.78,583.88 419.73,581.35 416.30,579.60 C412.87,577.85 409.62,576.73 406.60,575.40 C403.58,574.07 401.02,573.17 398.20,571.60 C395.38,570.03 392.53,567.75 389.70,566.00 C386.87,564.25 382.62,561.92 381.20,561.10 Z" fill="#1E90FF" stroke="#1E90FF" stroke-width="0.6"/>
<path d="M389.7,565.9V753.8M385.0,565.9H394.4M398.2,559.8V597.3M393.5,559.8H402.9M393.5,597.3H402.9M406.6,559.1V577.5M401.9,559.1H411.3M401.9,577.5H411.3M416.3,578.0V607.7M411.6,578.0H421.0M411.6,607.7H421.0M427.2,575.1V590.8M422.5,575.1H431.9M422.5,590.8H431.9M436.8,578.7V590.8M432.1,578.7H441.5M432.1,590.8H441.5M448.9,588.1V598.0M444.2,588.1H453.6M444.2,598.0H453.6M460.4,603.3V619.0M455.7,603.3H465.1M455.7,619.0H465.1M471.9,601.8V608.6M467.2,601.8H476.6M467.2,608.6H476.6M484.0,611.3V619.0M479.3,611.3H488.7M479.3,619.0H488.7M496.1,625.8V633.5M491.4,625.8H500.8M491.4,633.5H500.8M507.0,644.9V660.6M502.3,644.9H511.7M502.3,660.6H511.7M519.0,664.2V684.8M514.3,664.2H523.7M514.3,684.8H523.7M530.6,681.1V729.5M525.9,681.1H535.3M525.9,729.5H535.3M542.7,674.1V687.2M538.0,674.1H547.4M538.0,687.2H547.4M554.1,681.4V696.9M549.4,681.4H558.8M549.4,696.9H558.8M566.2,704.8V730.2M561.5,704.8H570.9M561.5,730.2H570.9" stroke="#000" stroke-width="1.7" fill="none"/>
<path d="M389.7,584.9L393.8,591.2H385.6ZM398.2,567.4L402.3,573.7H394.1ZM406.6,562.4L410.7,568.7H402.5ZM416.3,584.1L420.4,590.4H412.2ZM427.2,578.6L431.3,584.9H423.1ZM436.8,581.2L440.9,587.5H432.7ZM448.9,589.7L453.0,596.0H444.8ZM460.4,606.4L464.5,612.7H456.3ZM471.9,602.0L476.0,608.3H467.8ZM484.0,612.0L488.1,618.3H479.9ZM496.1,626.6L500.2,632.9H492.0ZM507.0,648.2L511.1,654.5H502.9ZM519.0,668.0L523.1,674.3H514.9ZM530.6,692.2L534.7,698.5H526.5ZM542.7,677.0L546.8,683.3H538.6ZM554.1,684.9L558.2,691.2H550.0ZM566.2,711.0L570.3,717.3H562.1Z" fill="#000"/>
<path d="M381.20,568.80 C382.62,568.95 386.87,569.30 389.70,569.70 C392.53,570.10 395.38,570.58 398.20,571.20 C401.02,571.82 403.58,572.55 406.60,573.40 C409.62,574.25 412.87,575.13 416.30,576.30 C419.73,577.47 423.78,579.03 427.20,580.40 C430.62,581.77 433.18,582.70 436.80,584.50 C440.42,586.30 444.97,588.88 448.90,591.20 C452.83,593.52 456.57,595.82 460.40,598.40 C464.23,600.98 467.97,603.47 471.90,606.70 C475.83,609.93 479.97,613.62 484.00,617.80 C488.03,621.98 492.27,627.25 496.10,631.80 C499.93,636.35 503.18,640.67 507.00,645.10 C510.82,649.53 515.07,654.48 519.00,658.40 C522.93,662.32 526.65,665.50 530.60,668.60 C534.55,671.70 538.78,674.38 542.70,677.00 C546.62,679.62 550.18,682.00 554.10,684.30 C558.02,686.60 564.18,689.72 566.20,690.80" fill="none" stroke="#FF00FF" stroke-width="1.8"/>
<path d="M381.20,558.10 C382.62,558.72 386.87,560.58 389.70,561.80 C392.53,563.02 395.38,564.20 398.20,565.40 C401.02,566.60 403.58,567.63 406.60,569.00 C409.62,570.37 412.87,571.98 416.30,573.60 C419.73,575.22 423.78,577.05 427.20,578.70 C430.62,580.35 433.18,581.53 436.80,583.50 C440.42,585.47 444.97,588.05 448.90,590.50 C452.83,592.95 456.57,595.50 460.40,598.20 C464.23,600.90 467.97,603.43 471.90,606.70 C475.83,609.97 479.97,613.62 484.00,617.80 C488.03,621.98 492.27,627.25 496.10,631.80 C499.93,636.35 503.18,640.67 507.00,645.10 C510.82,649.53 515.07,654.48 519.00,658.40 C522.93,662.32 526.65,665.50 530.60,668.60 C534.55,671.70 538.78,674.38 542.70,677.00 C546.62,679.62 550.18,682.00 554.10,684.30 C558.02,686.60 564.18,689.72 566.20,690.80" fill="none" stroke="#FF0000" stroke-width="1.9" stroke-dasharray="12 9" stroke-dashoffset="0"/>
</g>
<rect x="81.90" y="0.65" width="249.40" height="249.40" fill="none" stroke="#000" stroke-width="1.7"/>
<rect x="331.40" y="0.65" width="249.40" height="249.40" fill="none" stroke="#000" stroke-width="1.7"/>
<rect x="580.75" y="0.65" width="249.45" height="249.40" fill="none" stroke="#000" stroke-width="1.7"/>
<rect x="81.90" y="250.05" width="249.40" height="249.40" fill="none" stroke="#000" stroke-width="1.7"/>
<rect x="331.40" y="250.05" width="249.40" height="249.40" fill="none" stroke="#000" stroke-width="1.7"/>
<rect x="580.75" y="250.05" width="249.45" height="249.40" fill="none" stroke="#000" stroke-width="1.7"/>
<rect x="81.90" y="499.40" width="249.40" height="249.40" fill="none" stroke="#000" stroke-width="1.7"/>
<rect x="331.40" y="499.40" width="249.40" height="249.40" fill="none" stroke="#000" stroke-width="1.7"/>
<path d="M82.0,250.1L82.0,244.2M82.0,0.7L82.0,6.6M95.7,250.1L95.7,244.2M95.7,0.7L95.7,6.6M105.4,250.1L105.4,244.2M105.4,0.7L105.4,6.6M113.0,250.1L113.0,244.2M113.0,0.7L113.0,6.6M119.1,250.1L119.1,244.2M119.1,0.7L119.1,6.6M124.3,250.1L124.3,244.2M124.3,0.7L124.3,6.6M128.9,250.1L128.9,244.2M128.9,0.7L128.9,6.6M132.8,250.1L132.8,244.2M132.8,0.7L132.8,6.6M136.4,250.1L136.4,238.2M136.4,0.7L136.4,12.5M159.8,250.1L159.8,244.2M159.8,0.7L159.8,6.6M173.5,250.1L173.5,244.2M173.5,0.7L173.5,6.6M183.3,250.1L183.3,244.2M183.3,0.7L183.3,6.6M190.8,250.1L190.8,244.2M190.8,0.7L190.8,6.6M197.0,250.1L197.0,244.2M197.0,0.7L197.0,6.6M202.2,250.1L202.2,244.2M202.2,0.7L202.2,6.6M206.7,250.1L206.7,244.2M206.7,0.7L206.7,6.6M210.7,250.1L210.7,244.2M210.7,0.7L210.7,6.6M214.2,250.1L214.2,238.2M214.2,0.7L214.2,12.5M237.7,250.1L237.7,244.2M237.7,0.7L237.7,6.6M251.4,250.1L251.4,244.2M251.4,0.7L251.4,6.6M261.1,250.1L261.1,244.2M261.1,0.7L261.1,6.6M268.7,250.1L268.7,244.2M268.7,0.7L268.7,6.6M274.8,250.1L274.8,244.2M274.8,0.7L274.8,6.6M280.0,250.1L280.0,244.2M280.0,0.7L280.0,6.6M284.6,250.1L284.6,244.2M284.6,0.7L284.6,6.6M288.5,250.1L288.5,244.2M288.5,0.7L288.5,6.6M292.1,250.1L292.1,238.2M292.1,0.7L292.1,12.5M315.5,250.1L315.5,244.2M315.5,0.7L315.5,6.6M329.2,250.1L329.2,244.2M329.2,0.7L329.2,6.6M81.9,230.3L87.8,230.3M331.3,230.3L325.4,230.3M81.9,218.7L87.8,218.7M331.3,218.7L325.4,218.7M81.9,210.5L87.8,210.5M331.3,210.5L325.4,210.5M81.9,204.2L87.8,204.2M331.3,204.2L325.4,204.2M81.9,199.0L87.8,199.0M331.3,199.0L325.4,199.0M81.9,194.6L87.8,194.6M331.3,194.6L325.4,194.6M81.9,190.8L87.8,190.8M331.3,190.8L325.4,190.8M81.9,187.4L87.8,187.4M331.3,187.4L325.4,187.4M81.9,184.4L93.7,184.4M331.3,184.4L319.5,184.4M81.9,164.7L87.8,164.7M331.3,164.7L325.4,164.7M81.9,153.1L87.8,153.1M331.3,153.1L325.4,153.1M81.9,144.9L87.8,144.9M331.3,144.9L325.4,144.9M81.9,138.5L87.8,138.5M331.3,138.5L325.4,138.5M81.9,133.3L87.8,133.3M331.3,133.3L325.4,133.3M81.9,129.0L87.8,129.0M331.3,129.0L325.4,129.0M81.9,125.1L87.8,125.1M331.3,125.1L325.4,125.1M81.9,121.8L87.8,121.8M331.3,121.8L325.4,121.8M81.9,118.8L93.7,118.8M331.3,118.8L319.5,118.8M81.9,99.0L87.8,99.0M331.3,99.0L325.4,99.0M81.9,87.5L87.8,87.5M331.3,87.5L325.4,87.5M81.9,79.3L87.8,79.3M331.3,79.3L325.4,79.3M81.9,72.9L87.8,72.9M331.3,72.9L325.4,72.9M81.9,67.7L87.8,67.7M331.3,67.7L325.4,67.7M81.9,63.3L87.8,63.3M331.3,63.3L325.4,63.3M81.9,59.5L87.8,59.5M331.3,59.5L325.4,59.5M81.9,56.2L87.8,56.2M331.3,56.2L325.4,56.2M81.9,53.2L93.7,53.2M331.3,53.2L319.5,53.2M81.9,33.4L87.8,33.4M331.3,33.4L325.4,33.4M81.9,21.8L87.8,21.8M331.3,21.8L325.4,21.8M81.9,13.6L87.8,13.6M331.3,13.6L325.4,13.6M81.9,7.3L87.8,7.3M331.3,7.3L325.4,7.3M81.9,2.1L87.8,2.1M331.3,2.1L325.4,2.1M331.5,250.1L331.5,244.2M331.5,0.7L331.5,6.6M345.2,250.1L345.2,244.2M345.2,0.7L345.2,6.6M354.9,250.1L354.9,244.2M354.9,0.7L354.9,6.6M362.5,250.1L362.5,244.2M362.5,0.7L362.5,6.6M368.6,250.1L368.6,244.2M368.6,0.7L368.6,6.6M373.8,250.1L373.8,244.2M373.8,0.7L373.8,6.6M378.4,250.1L378.4,244.2M378.4,0.7L378.4,6.6M382.3,250.1L382.3,244.2M382.3,0.7L382.3,6.6M385.9,250.1L385.9,238.2M385.9,0.7L385.9,12.5M409.3,250.1L409.3,244.2M409.3,0.7L409.3,6.6M423.0,250.1L423.0,244.2M423.0,0.7L423.0,6.6M432.8,250.1L432.8,244.2M432.8,0.7L432.8,6.6M440.3,250.1L440.3,244.2M440.3,0.7L440.3,6.6M446.5,250.1L446.5,244.2M446.5,0.7L446.5,6.6M451.7,250.1L451.7,244.2M451.7,0.7L451.7,6.6M456.2,250.1L456.2,244.2M456.2,0.7L456.2,6.6M460.2,250.1L460.2,244.2M460.2,0.7L460.2,6.6M463.7,250.1L463.7,238.2M463.7,0.7L463.7,12.5M487.2,250.1L487.2,244.2M487.2,0.7L487.2,6.6M500.9,250.1L500.9,244.2M500.9,0.7L500.9,6.6M510.6,250.1L510.6,244.2M510.6,0.7L510.6,6.6M518.2,250.1L518.2,244.2M518.2,0.7L518.2,6.6M524.3,250.1L524.3,244.2M524.3,0.7L524.3,6.6M529.5,250.1L529.5,244.2M529.5,0.7L529.5,6.6M534.1,250.1L534.1,244.2M534.1,0.7L534.1,6.6M538.0,250.1L538.0,244.2M538.0,0.7L538.0,6.6M541.6,250.1L541.6,238.2M541.6,0.7L541.6,12.5M565.0,250.1L565.0,244.2M565.0,0.7L565.0,6.6M578.7,250.1L578.7,244.2M578.7,0.7L578.7,6.6M331.4,230.3L337.3,230.3M580.8,230.3L574.9,230.3M331.4,218.7L337.3,218.7M580.8,218.7L574.9,218.7M331.4,210.5L337.3,210.5M580.8,210.5L574.9,210.5M331.4,204.2L337.3,204.2M580.8,204.2L574.9,204.2M331.4,199.0L337.3,199.0M580.8,199.0L574.9,199.0M331.4,194.6L337.3,194.6M580.8,194.6L574.9,194.6M331.4,190.8L337.3,190.8M580.8,190.8L574.9,190.8M331.4,187.4L337.3,187.4M580.8,187.4L574.9,187.4M331.4,184.4L343.2,184.4M580.8,184.4L569.0,184.4M331.4,164.7L337.3,164.7M580.8,164.7L574.9,164.7M331.4,153.1L337.3,153.1M580.8,153.1L574.9,153.1M331.4,144.9L337.3,144.9M580.8,144.9L574.9,144.9M331.4,138.5L337.3,138.5M580.8,138.5L574.9,138.5M331.4,133.3L337.3,133.3M580.8,133.3L574.9,133.3M331.4,129.0L337.3,129.0M580.8,129.0L574.9,129.0M331.4,125.1L337.3,125.1M580.8,125.1L574.9,125.1M331.4,121.8L337.3,121.8M580.8,121.8L574.9,121.8M331.4,118.8L343.2,118.8M580.8,118.8L569.0,118.8M331.4,99.0L337.3,99.0M580.8,99.0L574.9,99.0M331.4,87.5L337.3,87.5M580.8,87.5L574.9,87.5M331.4,79.3L337.3,79.3M580.8,79.3L574.9,79.3M331.4,72.9L337.3,72.9M580.8,72.9L574.9,72.9M331.4,67.7L337.3,67.7M580.8,67.7L574.9,67.7M331.4,63.3L337.3,63.3M580.8,63.3L574.9,63.3M331.4,59.5L337.3,59.5M580.8,59.5L574.9,59.5M331.4,56.2L337.3,56.2M580.8,56.2L574.9,56.2M331.4,53.2L343.2,53.2M580.8,53.2L569.0,53.2M331.4,33.4L337.3,33.4M580.8,33.4L574.9,33.4M331.4,21.8L337.3,21.8M580.8,21.8L574.9,21.8M331.4,13.6L337.3,13.6M580.8,13.6L574.9,13.6M331.4,7.3L337.3,7.3M580.8,7.3L574.9,7.3M331.4,2.1L337.3,2.1M580.8,2.1L574.9,2.1M580.8,250.1L580.8,244.2M580.8,0.7L580.8,6.6M594.5,250.1L594.5,244.2M594.5,0.7L594.5,6.6M604.3,250.1L604.3,244.2M604.3,0.7L604.3,6.6M611.8,250.1L611.8,244.2M611.8,0.7L611.8,6.6M618.0,250.1L618.0,244.2M618.0,0.7L618.0,6.6M623.2,250.1L623.2,244.2M623.2,0.7L623.2,6.6M627.7,250.1L627.7,244.2M627.7,0.7L627.7,6.6M631.7,250.1L631.7,244.2M631.7,0.7L631.7,6.6M635.2,250.1L635.2,238.2M635.2,0.7L635.2,12.5M658.7,250.1L658.7,244.2M658.7,0.7L658.7,6.6M672.4,250.1L672.4,244.2M672.4,0.7L672.4,6.6M682.1,250.1L682.1,244.2M682.1,0.7L682.1,6.6M689.7,250.1L689.7,244.2M689.7,0.7L689.7,6.6M695.8,250.1L695.8,244.2M695.8,0.7L695.8,6.6M701.0,250.1L701.0,244.2M701.0,0.7L701.0,6.6M705.6,250.1L705.6,244.2M705.6,0.7L705.6,6.6M709.5,250.1L709.5,244.2M709.5,0.7L709.5,6.6M713.1,250.1L713.1,238.2M713.1,0.7L713.1,12.5M736.5,250.1L736.5,244.2M736.5,0.7L736.5,6.6M750.2,250.1L750.2,244.2M750.2,0.7L750.2,6.6M760.0,250.1L760.0,244.2M760.0,0.7L760.0,6.6M767.5,250.1L767.5,244.2M767.5,0.7L767.5,6.6M773.7,250.1L773.7,244.2M773.7,0.7L773.7,6.6M778.9,250.1L778.9,244.2M778.9,0.7L778.9,6.6M783.4,250.1L783.4,244.2M783.4,0.7L783.4,6.6M787.4,250.1L787.4,244.2M787.4,0.7L787.4,6.6M790.9,250.1L790.9,238.2M790.9,0.7L790.9,12.5M814.4,250.1L814.4,244.2M814.4,0.7L814.4,6.6M828.1,250.1L828.1,244.2M828.1,0.7L828.1,6.6M580.8,230.3L586.6,230.3M830.2,230.3L824.3,230.3M580.8,218.7L586.6,218.7M830.2,218.7L824.3,218.7M580.8,210.5L586.6,210.5M830.2,210.5L824.3,210.5M580.8,204.2L586.6,204.2M830.2,204.2L824.3,204.2M580.8,199.0L586.6,199.0M830.2,199.0L824.3,199.0M580.8,194.6L586.6,194.6M830.2,194.6L824.3,194.6M580.8,190.8L586.6,190.8M830.2,190.8L824.3,190.8M580.8,187.4L586.6,187.4M830.2,187.4L824.3,187.4M580.8,184.4L592.5,184.4M830.2,184.4L818.4,184.4M580.8,164.7L586.6,164.7M830.2,164.7L824.3,164.7M580.8,153.1L586.6,153.1M830.2,153.1L824.3,153.1M580.8,144.9L586.6,144.9M830.2,144.9L824.3,144.9M580.8,138.5L586.6,138.5M830.2,138.5L824.3,138.5M580.8,133.3L586.6,133.3M830.2,133.3L824.3,133.3M580.8,129.0L586.6,129.0M830.2,129.0L824.3,129.0M580.8,125.1L586.6,125.1M830.2,125.1L824.3,125.1M580.8,121.8L586.6,121.8M830.2,121.8L824.3,121.8M580.8,118.8L592.5,118.8M830.2,118.8L818.4,118.8M580.8,99.0L586.6,99.0M830.2,99.0L824.3,99.0M580.8,87.5L586.6,87.5M830.2,87.5L824.3,87.5M580.8,79.3L586.6,79.3M830.2,79.3L824.3,79.3M580.8,72.9L586.6,72.9M830.2,72.9L824.3,72.9M580.8,67.7L586.6,67.7M830.2,67.7L824.3,67.7M580.8,63.3L586.6,63.3M830.2,63.3L824.3,63.3M580.8,59.5L586.6,59.5M830.2,59.5L824.3,59.5M580.8,56.2L586.6,56.2M830.2,56.2L824.3,56.2M580.8,53.2L592.5,53.2M830.2,53.2L818.4,53.2M580.8,33.4L586.6,33.4M830.2,33.4L824.3,33.4M580.8,21.8L586.6,21.8M830.2,21.8L824.3,21.8M580.8,13.6L586.6,13.6M830.2,13.6L824.3,13.6M580.8,7.3L586.6,7.3M830.2,7.3L824.3,7.3M580.8,2.1L586.6,2.1M830.2,2.1L824.3,2.1M82.0,499.5L82.0,493.6M82.0,250.1L82.0,256.0M95.7,499.5L95.7,493.6M95.7,250.1L95.7,256.0M105.4,499.5L105.4,493.6M105.4,250.1L105.4,256.0M113.0,499.5L113.0,493.6M113.0,250.1L113.0,256.0M119.1,499.5L119.1,493.6M119.1,250.1L119.1,256.0M124.3,499.5L124.3,493.6M124.3,250.1L124.3,256.0M128.9,499.5L128.9,493.6M128.9,250.1L128.9,256.0M132.8,499.5L132.8,493.6M132.8,250.1L132.8,256.0M136.4,499.5L136.4,487.7M136.4,250.1L136.4,261.9M159.8,499.5L159.8,493.6M159.8,250.1L159.8,256.0M173.5,499.5L173.5,493.6M173.5,250.1L173.5,256.0M183.3,499.5L183.3,493.6M183.3,250.1L183.3,256.0M190.8,499.5L190.8,493.6M190.8,250.1L190.8,256.0M197.0,499.5L197.0,493.6M197.0,250.1L197.0,256.0M202.2,499.5L202.2,493.6M202.2,250.1L202.2,256.0M206.7,499.5L206.7,493.6M206.7,250.1L206.7,256.0M210.7,499.5L210.7,493.6M210.7,250.1L210.7,256.0M214.2,499.5L214.2,487.7M214.2,250.1L214.2,261.9M237.7,499.5L237.7,493.6M237.7,250.1L237.7,256.0M251.4,499.5L251.4,493.6M251.4,250.1L251.4,256.0M261.1,499.5L261.1,493.6M261.1,250.1L261.1,256.0M268.7,499.5L268.7,493.6M268.7,250.1L268.7,256.0M274.8,499.5L274.8,493.6M274.8,250.1L274.8,256.0M280.0,499.5L280.0,493.6M280.0,250.1L280.0,256.0M284.6,499.5L284.6,493.6M284.6,250.1L284.6,256.0M288.5,499.5L288.5,493.6M288.5,250.1L288.5,256.0M292.1,499.5L292.1,487.7M292.1,250.1L292.1,261.9M315.5,499.5L315.5,493.6M315.5,250.1L315.5,256.0M329.2,499.5L329.2,493.6M329.2,250.1L329.2,256.0M81.9,479.7L87.8,479.7M331.3,479.7L325.4,479.7M81.9,468.1L87.8,468.1M331.3,468.1L325.4,468.1M81.9,459.9L87.8,459.9M331.3,459.9L325.4,459.9M81.9,453.6L87.8,453.6M331.3,453.6L325.4,453.6M81.9,448.4L87.8,448.4M331.3,448.4L325.4,448.4M81.9,444.0L87.8,444.0M331.3,444.0L325.4,444.0M81.9,440.2L87.8,440.2M331.3,440.2L325.4,440.2M81.9,436.8L87.8,436.8M331.3,436.8L325.4,436.8M81.9,433.8L93.7,433.8M331.3,433.8L319.5,433.8M81.9,414.1L87.8,414.1M331.3,414.1L325.4,414.1M81.9,402.5L87.8,402.5M331.3,402.5L325.4,402.5M81.9,394.3L87.8,394.3M331.3,394.3L325.4,394.3M81.9,387.9L87.8,387.9M331.3,387.9L325.4,387.9M81.9,382.7L87.8,382.7M331.3,382.7L325.4,382.7M81.9,378.4L87.8,378.4M331.3,378.4L325.4,378.4M81.9,374.5L87.8,374.5M331.3,374.5L325.4,374.5M81.9,371.2L87.8,371.2M331.3,371.2L325.4,371.2M81.9,368.2L93.7,368.2M331.3,368.2L319.5,368.2M81.9,348.4L87.8,348.4M331.3,348.4L325.4,348.4M81.9,336.9L87.8,336.9M331.3,336.9L325.4,336.9M81.9,328.7L87.8,328.7M331.3,328.7L325.4,328.7M81.9,322.3L87.8,322.3M331.3,322.3L325.4,322.3M81.9,317.1L87.8,317.1M331.3,317.1L325.4,317.1M81.9,312.7L87.8,312.7M331.3,312.7L325.4,312.7M81.9,308.9L87.8,308.9M331.3,308.9L325.4,308.9M81.9,305.6L87.8,305.6M331.3,305.6L325.4,305.6M81.9,302.6L93.7,302.6M331.3,302.6L319.5,302.6M81.9,282.8L87.8,282.8M331.3,282.8L325.4,282.8M81.9,271.2L87.8,271.2M331.3,271.2L325.4,271.2M81.9,263.0L87.8,263.0M331.3,263.0L325.4,263.0M81.9,256.7L87.8,256.7M331.3,256.7L325.4,256.7M81.9,251.5L87.8,251.5M331.3,251.5L325.4,251.5M331.5,499.5L331.5,493.6M331.5,250.1L331.5,256.0M345.2,499.5L345.2,493.6M345.2,250.1L345.2,256.0M354.9,499.5L354.9,493.6M354.9,250.1L354.9,256.0M362.5,499.5L362.5,493.6M362.5,250.1L362.5,256.0M368.6,499.5L368.6,493.6M368.6,250.1L368.6,256.0M373.8,499.5L373.8,493.6M373.8,250.1L373.8,256.0M378.4,499.5L378.4,493.6M378.4,250.1L378.4,256.0M382.3,499.5L382.3,493.6M382.3,250.1L382.3,256.0M385.9,499.5L385.9,487.7M385.9,250.1L385.9,261.9M409.3,499.5L409.3,493.6M409.3,250.1L409.3,256.0M423.0,499.5L423.0,493.6M423.0,250.1L423.0,256.0M432.8,499.5L432.8,493.6M432.8,250.1L432.8,256.0M440.3,499.5L440.3,493.6M440.3,250.1L440.3,256.0M446.5,499.5L446.5,493.6M446.5,250.1L446.5,256.0M451.7,499.5L451.7,493.6M451.7,250.1L451.7,256.0M456.2,499.5L456.2,493.6M456.2,250.1L456.2,256.0M460.2,499.5L460.2,493.6M460.2,250.1L460.2,256.0M463.7,499.5L463.7,487.7M463.7,250.1L463.7,261.9M487.2,499.5L487.2,493.6M487.2,250.1L487.2,256.0M500.9,499.5L500.9,493.6M500.9,250.1L500.9,256.0M510.6,499.5L510.6,493.6M510.6,250.1L510.6,256.0M518.2,499.5L518.2,493.6M518.2,250.1L518.2,256.0M524.3,499.5L524.3,493.6M524.3,250.1L524.3,256.0M529.5,499.5L529.5,493.6M529.5,250.1L529.5,256.0M534.1,499.5L534.1,493.6M534.1,250.1L534.1,256.0M538.0,499.5L538.0,493.6M538.0,250.1L538.0,256.0M541.6,499.5L541.6,487.7M541.6,250.1L541.6,261.9M565.0,499.5L565.0,493.6M565.0,250.1L565.0,256.0M578.7,499.5L578.7,493.6M578.7,250.1L578.7,256.0M331.4,479.7L337.3,479.7M580.8,479.7L574.9,479.7M331.4,468.1L337.3,468.1M580.8,468.1L574.9,468.1M331.4,459.9L337.3,459.9M580.8,459.9L574.9,459.9M331.4,453.6L337.3,453.6M580.8,453.6L574.9,453.6M331.4,448.4L337.3,448.4M580.8,448.4L574.9,448.4M331.4,444.0L337.3,444.0M580.8,444.0L574.9,444.0M331.4,440.2L337.3,440.2M580.8,440.2L574.9,440.2M331.4,436.8L337.3,436.8M580.8,436.8L574.9,436.8M331.4,433.8L343.2,433.8M580.8,433.8L569.0,433.8M331.4,414.1L337.3,414.1M580.8,414.1L574.9,414.1M331.4,402.5L337.3,402.5M580.8,402.5L574.9,402.5M331.4,394.3L337.3,394.3M580.8,394.3L574.9,394.3M331.4,387.9L337.3,387.9M580.8,387.9L574.9,387.9M331.4,382.7L337.3,382.7M580.8,382.7L574.9,382.7M331.4,378.4L337.3,378.4M580.8,378.4L574.9,378.4M331.4,374.5L337.3,374.5M580.8,374.5L574.9,374.5M331.4,371.2L337.3,371.2M580.8,371.2L574.9,371.2M331.4,368.2L343.2,368.2M580.8,368.2L569.0,368.2M331.4,348.4L337.3,348.4M580.8,348.4L574.9,348.4M331.4,336.9L337.3,336.9M580.8,336.9L574.9,336.9M331.4,328.7L337.3,328.7M580.8,328.7L574.9,328.7M331.4,322.3L337.3,322.3M580.8,322.3L574.9,322.3M331.4,317.1L337.3,317.1M580.8,317.1L574.9,317.1M331.4,312.7L337.3,312.7M580.8,312.7L574.9,312.7M331.4,308.9L337.3,308.9M580.8,308.9L574.9,308.9M331.4,305.6L337.3,305.6M580.8,305.6L574.9,305.6M331.4,302.6L343.2,302.6M580.8,302.6L569.0,302.6M331.4,282.8L337.3,282.8M580.8,282.8L574.9,282.8M331.4,271.2L337.3,271.2M580.8,271.2L574.9,271.2M331.4,263.0L337.3,263.0M580.8,263.0L574.9,263.0M331.4,256.7L337.3,256.7M580.8,256.7L574.9,256.7M331.4,251.5L337.3,251.5M580.8,251.5L574.9,251.5M580.8,499.5L580.8,493.6M580.8,250.1L580.8,256.0M594.5,499.5L594.5,493.6M594.5,250.1L594.5,256.0M604.3,499.5L604.3,493.6M604.3,250.1L604.3,256.0M611.8,499.5L611.8,493.6M611.8,250.1L611.8,256.0M618.0,499.5L618.0,493.6M618.0,250.1L618.0,256.0M623.2,499.5L623.2,493.6M623.2,250.1L623.2,256.0M627.7,499.5L627.7,493.6M627.7,250.1L627.7,256.0M631.7,499.5L631.7,493.6M631.7,250.1L631.7,256.0M635.2,499.5L635.2,487.7M635.2,250.1L635.2,261.9M658.7,499.5L658.7,493.6M658.7,250.1L658.7,256.0M672.4,499.5L672.4,493.6M672.4,250.1L672.4,256.0M682.1,499.5L682.1,493.6M682.1,250.1L682.1,256.0M689.7,499.5L689.7,493.6M689.7,250.1L689.7,256.0M695.8,499.5L695.8,493.6M695.8,250.1L695.8,256.0M701.0,499.5L701.0,493.6M701.0,250.1L701.0,256.0M705.6,499.5L705.6,493.6M705.6,250.1L705.6,256.0M709.5,499.5L709.5,493.6M709.5,250.1L709.5,256.0M713.1,499.5L713.1,487.7M713.1,250.1L713.1,261.9M736.5,499.5L736.5,493.6M736.5,250.1L736.5,256.0M750.2,499.5L750.2,493.6M750.2,250.1L750.2,256.0M760.0,499.5L760.0,493.6M760.0,250.1L760.0,256.0M767.5,499.5L767.5,493.6M767.5,250.1L767.5,256.0M773.7,499.5L773.7,493.6M773.7,250.1L773.7,256.0M778.9,499.5L778.9,493.6M778.9,250.1L778.9,256.0M783.4,499.5L783.4,493.6M783.4,250.1L783.4,256.0M787.4,499.5L787.4,493.6M787.4,250.1L787.4,256.0M790.9,499.5L790.9,487.7M790.9,250.1L790.9,261.9M814.4,499.5L814.4,493.6M814.4,250.1L814.4,256.0M828.1,499.5L828.1,493.6M828.1,250.1L828.1,256.0M580.8,479.7L586.6,479.7M830.2,479.7L824.3,479.7M580.8,468.1L586.6,468.1M830.2,468.1L824.3,468.1M580.8,459.9L586.6,459.9M830.2,459.9L824.3,459.9M580.8,453.6L586.6,453.6M830.2,453.6L824.3,453.6M580.8,448.4L586.6,448.4M830.2,448.4L824.3,448.4M580.8,444.0L586.6,444.0M830.2,444.0L824.3,444.0M580.8,440.2L586.6,440.2M830.2,440.2L824.3,440.2M580.8,436.8L586.6,436.8M830.2,436.8L824.3,436.8M580.8,433.8L592.5,433.8M830.2,433.8L818.4,433.8M580.8,414.1L586.6,414.1M830.2,414.1L824.3,414.1M580.8,402.5L586.6,402.5M830.2,402.5L824.3,402.5M580.8,394.3L586.6,394.3M830.2,394.3L824.3,394.3M580.8,387.9L586.6,387.9M830.2,387.9L824.3,387.9M580.8,382.7L586.6,382.7M830.2,382.7L824.3,382.7M580.8,378.4L586.6,378.4M830.2,378.4L824.3,378.4M580.8,374.5L586.6,374.5M830.2,374.5L824.3,374.5M580.8,371.2L586.6,371.2M830.2,371.2L824.3,371.2M580.8,368.2L592.5,368.2M830.2,368.2L818.4,368.2M580.8,348.4L586.6,348.4M830.2,348.4L824.3,348.4M580.8,336.9L586.6,336.9M830.2,336.9L824.3,336.9M580.8,328.7L586.6,328.7M830.2,328.7L824.3,328.7M580.8,322.3L586.6,322.3M830.2,322.3L824.3,322.3M580.8,317.1L586.6,317.1M830.2,317.1L824.3,317.1M580.8,312.7L586.6,312.7M830.2,312.7L824.3,312.7M580.8,308.9L586.6,308.9M830.2,308.9L824.3,308.9M580.8,305.6L586.6,305.6M830.2,305.6L824.3,305.6M580.8,302.6L592.5,302.6M830.2,302.6L818.4,302.6M580.8,282.8L586.6,282.8M830.2,282.8L824.3,282.8M580.8,271.2L586.6,271.2M830.2,271.2L824.3,271.2M580.8,263.0L586.6,263.0M830.2,263.0L824.3,263.0M580.8,256.7L586.6,256.7M830.2,256.7L824.3,256.7M580.8,251.5L586.6,251.5M830.2,251.5L824.3,251.5M82.0,748.8L82.0,742.9M82.0,499.4L82.0,505.3M95.7,748.8L95.7,742.9M95.7,499.4L95.7,505.3M105.4,748.8L105.4,742.9M105.4,499.4L105.4,505.3M113.0,748.8L113.0,742.9M113.0,499.4L113.0,505.3M119.1,748.8L119.1,742.9M119.1,499.4L119.1,505.3M124.3,748.8L124.3,742.9M124.3,499.4L124.3,505.3M128.9,748.8L128.9,742.9M128.9,499.4L128.9,505.3M132.8,748.8L132.8,742.9M132.8,499.4L132.8,505.3M136.4,748.8L136.4,737.0M136.4,499.4L136.4,511.2M159.8,748.8L159.8,742.9M159.8,499.4L159.8,505.3M173.5,748.8L173.5,742.9M173.5,499.4L173.5,505.3M183.3,748.8L183.3,742.9M183.3,499.4L183.3,505.3M190.8,748.8L190.8,742.9M190.8,499.4L190.8,505.3M197.0,748.8L197.0,742.9M197.0,499.4L197.0,505.3M202.2,748.8L202.2,742.9M202.2,499.4L202.2,505.3M206.7,748.8L206.7,742.9M206.7,499.4L206.7,505.3M210.7,748.8L210.7,742.9M210.7,499.4L210.7,505.3M214.2,748.8L214.2,737.0M214.2,499.4L214.2,511.2M237.7,748.8L237.7,742.9M237.7,499.4L237.7,505.3M251.4,748.8L251.4,742.9M251.4,499.4L251.4,505.3M261.1,748.8L261.1,742.9M261.1,499.4L261.1,505.3M268.7,748.8L268.7,742.9M268.7,499.4L268.7,505.3M274.8,748.8L274.8,742.9M274.8,499.4L274.8,505.3M280.0,748.8L280.0,742.9M280.0,499.4L280.0,505.3M284.6,748.8L284.6,742.9M284.6,499.4L284.6,505.3M288.5,748.8L288.5,742.9M288.5,499.4L288.5,505.3M292.1,748.8L292.1,737.0M292.1,499.4L292.1,511.2M315.5,748.8L315.5,742.9M315.5,499.4L315.5,505.3M329.2,748.8L329.2,742.9M329.2,499.4L329.2,505.3M81.9,729.0L87.8,729.0M331.3,729.0L325.4,729.0M81.9,717.5L87.8,717.5M331.3,717.5L325.4,717.5M81.9,709.3L87.8,709.3M331.3,709.3L325.4,709.3M81.9,702.9L87.8,702.9M331.3,702.9L325.4,702.9M81.9,697.7L87.8,697.7M331.3,697.7L325.4,697.7M81.9,693.3L87.8,693.3M331.3,693.3L325.4,693.3M81.9,689.5L87.8,689.5M331.3,689.5L325.4,689.5M81.9,686.2L87.8,686.2M331.3,686.2L325.4,686.2M81.9,683.2L93.7,683.2M331.3,683.2L319.5,683.2M81.9,663.4L87.8,663.4M331.3,663.4L325.4,663.4M81.9,651.9L87.8,651.9M331.3,651.9L325.4,651.9M81.9,643.7L87.8,643.7M331.3,643.7L325.4,643.7M81.9,637.3L87.8,637.3M331.3,637.3L325.4,637.3M81.9,632.1L87.8,632.1M331.3,632.1L325.4,632.1M81.9,627.7L87.8,627.7M331.3,627.7L325.4,627.7M81.9,623.9L87.8,623.9M331.3,623.9L325.4,623.9M81.9,620.5L87.8,620.5M331.3,620.5L325.4,620.5M81.9,617.5L93.7,617.5M331.3,617.5L319.5,617.5M81.9,597.8L87.8,597.8M331.3,597.8L325.4,597.8M81.9,586.2L87.8,586.2M331.3,586.2L325.4,586.2M81.9,578.0L87.8,578.0M331.3,578.0L325.4,578.0M81.9,571.7L87.8,571.7M331.3,571.7L325.4,571.7M81.9,566.5L87.8,566.5M331.3,566.5L325.4,566.5M81.9,562.1L87.8,562.1M331.3,562.1L325.4,562.1M81.9,558.3L87.8,558.3M331.3,558.3L325.4,558.3M81.9,554.9L87.8,554.9M331.3,554.9L325.4,554.9M81.9,551.9L93.7,551.9M331.3,551.9L319.5,551.9M81.9,532.1L87.8,532.1M331.3,532.1L325.4,532.1M81.9,520.6L87.8,520.6M331.3,520.6L325.4,520.6M81.9,512.4L87.8,512.4M331.3,512.4L325.4,512.4M81.9,506.0L87.8,506.0M331.3,506.0L325.4,506.0M81.9,500.8L87.8,500.8M331.3,500.8L325.4,500.8M331.5,748.8L331.5,742.9M331.5,499.4L331.5,505.3M345.2,748.8L345.2,742.9M345.2,499.4L345.2,505.3M354.9,748.8L354.9,742.9M354.9,499.4L354.9,505.3M362.5,748.8L362.5,742.9M362.5,499.4L362.5,505.3M368.6,748.8L368.6,742.9M368.6,499.4L368.6,505.3M373.8,748.8L373.8,742.9M373.8,499.4L373.8,505.3M378.4,748.8L378.4,742.9M378.4,499.4L378.4,505.3M382.3,748.8L382.3,742.9M382.3,499.4L382.3,505.3M385.9,748.8L385.9,737.0M385.9,499.4L385.9,511.2M409.3,748.8L409.3,742.9M409.3,499.4L409.3,505.3M423.0,748.8L423.0,742.9M423.0,499.4L423.0,505.3M432.8,748.8L432.8,742.9M432.8,499.4L432.8,505.3M440.3,748.8L440.3,742.9M440.3,499.4L440.3,505.3M446.5,748.8L446.5,742.9M446.5,499.4L446.5,505.3M451.7,748.8L451.7,742.9M451.7,499.4L451.7,505.3M456.2,748.8L456.2,742.9M456.2,499.4L456.2,505.3M460.2,748.8L460.2,742.9M460.2,499.4L460.2,505.3M463.7,748.8L463.7,737.0M463.7,499.4L463.7,511.2M487.2,748.8L487.2,742.9M487.2,499.4L487.2,505.3M500.9,748.8L500.9,742.9M500.9,499.4L500.9,505.3M510.6,748.8L510.6,742.9M510.6,499.4L510.6,505.3M518.2,748.8L518.2,742.9M518.2,499.4L518.2,505.3M524.3,748.8L524.3,742.9M524.3,499.4L524.3,505.3M529.5,748.8L529.5,742.9M529.5,499.4L529.5,505.3M534.1,748.8L534.1,742.9M534.1,499.4L534.1,505.3M538.0,748.8L538.0,742.9M538.0,499.4L538.0,505.3M541.6,748.8L541.6,737.0M541.6,499.4L541.6,511.2M565.0,748.8L565.0,742.9M565.0,499.4L565.0,505.3M578.7,748.8L578.7,742.9M578.7,499.4L578.7,505.3M331.4,729.0L337.3,729.0M580.8,729.0L574.9,729.0M331.4,717.5L337.3,717.5M580.8,717.5L574.9,717.5M331.4,709.3L337.3,709.3M580.8,709.3L574.9,709.3M331.4,702.9L337.3,702.9M580.8,702.9L574.9,702.9M331.4,697.7L337.3,697.7M580.8,697.7L574.9,697.7M331.4,693.3L337.3,693.3M580.8,693.3L574.9,693.3M331.4,689.5L337.3,689.5M580.8,689.5L574.9,689.5M331.4,686.2L337.3,686.2M580.8,686.2L574.9,686.2M331.4,683.2L343.2,683.2M580.8,683.2L569.0,683.2M331.4,663.4L337.3,663.4M580.8,663.4L574.9,663.4M331.4,651.9L337.3,651.9M580.8,651.9L574.9,651.9M331.4,643.7L337.3,643.7M580.8,643.7L574.9,643.7M331.4,637.3L337.3,637.3M580.8,637.3L574.9,637.3M331.4,632.1L337.3,632.1M580.8,632.1L574.9,632.1M331.4,627.7L337.3,627.7M580.8,627.7L574.9,627.7M331.4,623.9L337.3,623.9M580.8,623.9L574.9,623.9M331.4,620.5L337.3,620.5M580.8,620.5L574.9,620.5M331.4,617.5L343.2,617.5M580.8,617.5L569.0,617.5M331.4,597.8L337.3,597.8M580.8,597.8L574.9,597.8M331.4,586.2L337.3,586.2M580.8,586.2L574.9,586.2M331.4,578.0L337.3,578.0M580.8,578.0L574.9,578.0M331.4,571.7L337.3,571.7M580.8,571.7L574.9,571.7M331.4,566.5L337.3,566.5M580.8,566.5L574.9,566.5M331.4,562.1L337.3,562.1M580.8,562.1L574.9,562.1M331.4,558.3L337.3,558.3M580.8,558.3L574.9,558.3M331.4,554.9L337.3,554.9M580.8,554.9L574.9,554.9M331.4,551.9L343.2,551.9M580.8,551.9L569.0,551.9M331.4,532.1L337.3,532.1M580.8,532.1L574.9,532.1M331.4,520.6L337.3,520.6M580.8,520.6L574.9,520.6M331.4,512.4L337.3,512.4M580.8,512.4L574.9,512.4M331.4,506.0L337.3,506.0M580.8,506.0L574.9,506.0M331.4,500.8L337.3,500.8M580.8,500.8L574.9,500.8" stroke="#000" stroke-width="1.6" fill="none"/>
<g opacity="0.999">
<text x="38.00" y="60.06" font-size="19.5" text-anchor="start" fill="#000" stroke="#000" stroke-width="0.5" font-family="Liberation Serif, serif" textLength="33.2" lengthAdjust="spacingAndGlyphs">100</text>
<text x="50.20" y="125.69" font-size="19.5" text-anchor="start" fill="#000" stroke="#000" stroke-width="0.5" font-family="Liberation Serif, serif" textLength="21" lengthAdjust="spacingAndGlyphs">10</text>
<text x="71.20" y="191.32" font-size="19.5" text-anchor="end" fill="#000" stroke="#000" stroke-width="0.5" font-family="Liberation Serif, serif" >1</text>
<text x="38.00" y="309.46" font-size="19.5" text-anchor="start" fill="#000" stroke="#000" stroke-width="0.5" font-family="Liberation Serif, serif" textLength="33.2" lengthAdjust="spacingAndGlyphs">100</text>
<text x="50.20" y="375.09" font-size="19.5" text-anchor="start" fill="#000" stroke="#000" stroke-width="0.5" font-family="Liberation Serif, serif" textLength="21" lengthAdjust="spacingAndGlyphs">10</text>
<text x="71.20" y="440.72" font-size="19.5" text-anchor="end" fill="#000" stroke="#000" stroke-width="0.5" font-family="Liberation Serif, serif" >1</text>
<text x="38.00" y="558.81" font-size="19.5" text-anchor="start" fill="#000" stroke="#000" stroke-width="0.5" font-family="Liberation Serif, serif" textLength="33.2" lengthAdjust="spacingAndGlyphs">100</text>
<text x="50.20" y="624.44" font-size="19.5" text-anchor="start" fill="#000" stroke="#000" stroke-width="0.5" font-family="Liberation Serif, serif" textLength="21" lengthAdjust="spacingAndGlyphs">10</text>
<text x="71.20" y="690.07" font-size="19.5" text-anchor="end" fill="#000" stroke="#000" stroke-width="0.5" font-family="Liberation Serif, serif" >1</text>
<text x="122.79" y="771.50" font-size="19.5" text-anchor="start" fill="#000" stroke="#000" stroke-width="0.5" font-family="Liberation Serif, serif" textLength="26.2" lengthAdjust="spacingAndGlyphs">0.1</text>
<text x="214.25" y="771.50" font-size="19.5" text-anchor="middle" fill="#000" stroke="#000" stroke-width="0.5" font-family="Liberation Serif, serif" >1</text>
<text x="281.90" y="771.50" font-size="19.5" text-anchor="start" fill="#000" stroke="#000" stroke-width="0.5" font-family="Liberation Serif, serif" textLength="20.4" lengthAdjust="spacingAndGlyphs">10</text>
<text x="372.29" y="771.50" font-size="19.5" text-anchor="start" fill="#000" stroke="#000" stroke-width="0.5" font-family="Liberation Serif, serif" textLength="26.2" lengthAdjust="spacingAndGlyphs">0.1</text>
<text x="463.75" y="771.50" font-size="19.5" text-anchor="middle" fill="#000" stroke="#000" stroke-width="0.5" font-family="Liberation Serif, serif" >1</text>
<text x="531.39" y="771.50" font-size="19.5" text-anchor="start" fill="#000" stroke="#000" stroke-width="0.5" font-family="Liberation Serif, serif" textLength="20.4" lengthAdjust="spacingAndGlyphs">10</text>
<text x="621.64" y="522.30" font-size="19.5" text-anchor="start" fill="#000" stroke="#000" stroke-width="0.5" font-family="Liberation Serif, serif" textLength="26.2" lengthAdjust="spacingAndGlyphs">0.1</text>
<text x="713.10" y="522.30" font-size="19.5" text-anchor="middle" fill="#000" stroke="#000" stroke-width="0.5" font-family="Liberation Serif, serif" >1</text>
<text x="780.74" y="522.30" font-size="19.5" text-anchor="start" fill="#000" stroke="#000" stroke-width="0.5" font-family="Liberation Serif, serif" textLength="20.4" lengthAdjust="spacingAndGlyphs">10</text>
<text x="151.55" y="800.80" font-size="19.5" text-anchor="start" fill="#000" stroke="#000" stroke-width="0.5" font-family="Liberation Serif, serif" >R</text>
<text x="172.65" y="800.80" font-size="19.5" text-anchor="start" fill="#000" stroke="#000" stroke-width="0.5" font-family="Liberation Serif, serif" >[</text>
<text x="179.75" y="800.80" font-size="19.5" text-anchor="start" fill="#000" stroke="#000" stroke-width="0.5" font-family="Liberation Serif, serif" >h</text>
<text x="194.25" y="806.40" font-size="10.5" text-anchor="start" fill="#000" stroke="#000" stroke-width="0.85" font-family="Liberation Serif, serif" textLength="12.4" lengthAdjust="spacing">70</text>
<text x="194.25" y="796.20" font-size="10" text-anchor="start" fill="#000" stroke="#000" stroke-width="0.85" font-family="Liberation Serif, serif" textLength="13.0" lengthAdjust="spacing">−1</text>
<text x="218.45" y="800.80" font-size="19.5" text-anchor="start" fill="#000" stroke="#000" stroke-width="0.5" font-family="Liberation Serif, serif" textLength="13.6" lengthAdjust="spacingAndGlyphs">M</text>
<text x="232.95" y="800.80" font-size="19.5" text-anchor="start" fill="#000" stroke="#000" stroke-width="0.5" font-family="Liberation Serif, serif" textLength="20.6" lengthAdjust="spacing">pc</text>
<text x="256.45" y="800.80" font-size="19.5" text-anchor="start" fill="#000" stroke="#000" stroke-width="0.5" font-family="Liberation Serif, serif" >]</text>
<text x="401.35" y="800.80" font-size="19.5" text-anchor="start" fill="#000" stroke="#000" stroke-width="0.5" font-family="Liberation Serif, serif" >R</text>
<text x="422.45" y="800.80" font-size="19.5" text-anchor="start" fill="#000" stroke="#000" stroke-width="0.5" font-family="Liberation Serif, serif" >[</text>
<text x="429.55" y="800.80" font-size="19.5" text-anchor="start" fill="#000" stroke="#000" stroke-width="0.5" font-family="Liberation Serif, serif" >h</text>
<text x="444.05" y="806.40" font-size="10.5" text-anchor="start" fill="#000" stroke="#000" stroke-width="0.85" font-family="Liberation Serif, serif" textLength="12.4" lengthAdjust="spacing">70</text>
<text x="444.05" y="796.20" font-size="10" text-anchor="start" fill="#000" stroke="#000" stroke-width="0.85" font-family="Liberation Serif, serif" textLength="13.0" lengthAdjust="spacing">−1</text>
<text x="468.25" y="800.80" font-size="19.5" text-anchor="start" fill="#000" stroke="#000" stroke-width="0.5" font-family="Liberation Serif, serif" textLength="13.6" lengthAdjust="spacingAndGlyphs">M</text>
<text x="482.75" y="800.80" font-size="19.5" text-anchor="start" fill="#000" stroke="#000" stroke-width="0.5" font-family="Liberation Serif, serif" textLength="20.6" lengthAdjust="spacing">pc</text>
<text x="506.25" y="800.80" font-size="19.5" text-anchor="start" fill="#000" stroke="#000" stroke-width="0.5" font-family="Liberation Serif, serif" >]</text>
<text x="651.15" y="551.70" font-size="19.5" text-anchor="start" fill="#000" stroke="#000" stroke-width="0.5" font-family="Liberation Serif, serif" >R</text>
<text x="672.25" y="551.70" font-size="19.5" text-anchor="start" fill="#000" stroke="#000" stroke-width="0.5" font-family="Liberation Serif, serif" >[</text>
<text x="679.35" y="551.70" font-size="19.5" text-anchor="start" fill="#000" stroke="#000" stroke-width="0.5" font-family="Liberation Serif, serif" >h</text>
<text x="693.85" y="557.30" font-size="10.5" text-anchor="start" fill="#000" stroke="#000" stroke-width="0.85" font-family="Liberation Serif, serif" textLength="12.4" lengthAdjust="spacing">70</text>
<text x="693.85" y="547.10" font-size="10" text-anchor="start" fill="#000" stroke="#000" stroke-width="0.85" font-family="Liberation Serif, serif" textLength="13.0" lengthAdjust="spacing">−1</text>
<text x="718.05" y="551.70" font-size="19.5" text-anchor="start" fill="#000" stroke="#000" stroke-width="0.5" font-family="Liberation Serif, serif" textLength="13.6" lengthAdjust="spacingAndGlyphs">M</text>
<text x="732.55" y="551.70" font-size="19.5" text-anchor="start" fill="#000" stroke="#000" stroke-width="0.5" font-family="Liberation Serif, serif" textLength="20.6" lengthAdjust="spacing">pc</text>
<text x="756.05" y="551.70" font-size="19.5" text-anchor="start" fill="#000" stroke="#000" stroke-width="0.5" font-family="Liberation Serif, serif" >]</text>
<g transform="translate(15.9,444.9) rotate(-90)">
<text x="0.30" y="0.00" font-size="19.5" text-anchor="start" fill="#000" stroke="#000" stroke-width="0.5" font-family="Liberation Serif, serif" textLength="41.5" lengthAdjust="spacing">ΔΣ[h</text>
<text x="44.00" y="5.30" font-size="11.5" text-anchor="start" fill="#000" stroke="#000" stroke-width="0.7" font-family="Liberation Serif, serif" textLength="14.2" lengthAdjust="spacing">70</text>
<text x="67.80" y="0.00" font-size="19.5" text-anchor="start" fill="#000" stroke="#000" stroke-width="0.5" font-family="Liberation Serif, serif" textLength="12.0" lengthAdjust="spacingAndGlyphs">M</text>
<circle cx="84.9" cy="0.7" r="4.0" fill="none" stroke="#000" stroke-width="1.4"/><circle cx="84.9" cy="0.7" r="1.2" fill="#000"/>
<line x1="91.5" y1="2.3" x2="101.2" y2="-14.3" stroke="#000" stroke-width="1.7"/>
<text x="103.70" y="0.00" font-size="19.5" text-anchor="start" fill="#000" stroke="#000" stroke-width="0.5" font-family="Liberation Serif, serif" textLength="20.9" lengthAdjust="spacing">pc</text>
<text x="125.30" y="-6.00" font-size="11.5" text-anchor="start" fill="#000" stroke="#000" stroke-width="0.7" font-family="Liberation Serif, serif" >2</text>
<text x="133.00" y="0.00" font-size="19.5" text-anchor="start" fill="#000" stroke="#000" stroke-width="0.5" font-family="Liberation Serif, serif" >]</text>
</g>
<text x="114.60" y="45.40" font-size="19.5" text-anchor="start" fill="#000" stroke="#000" stroke-width="0.5" font-family="Liberation Serif, serif" textLength="94" lengthAdjust="spacingAndGlyphs">(−18,−17],</text>
<text x="231.00" y="45.40" font-size="19.5" text-anchor="start" fill="#000" stroke="#000" stroke-width="0.5" font-family="Liberation Serif, serif" textLength="59.6" lengthAdjust="spacingAndGlyphs">z=0.07</text>
<line x1="231.40" y1="34.10" x2="240.70" y2="34.10" stroke="#000" stroke-width="1.3" />
<text x="364.00" y="45.40" font-size="19.5" text-anchor="start" fill="#000" stroke="#000" stroke-width="0.5" font-family="Liberation Serif, serif" textLength="96" lengthAdjust="spacingAndGlyphs">(−19,−18],</text>
<text x="480.50" y="45.40" font-size="19.5" text-anchor="start" fill="#000" stroke="#000" stroke-width="0.5" font-family="Liberation Serif, serif" textLength="61.6" lengthAdjust="spacingAndGlyphs">z=0.09</text>
<line x1="480.90" y1="34.10" x2="490.20" y2="34.10" stroke="#000" stroke-width="1.3" />
<text x="613.00" y="45.40" font-size="19.5" text-anchor="start" fill="#000" stroke="#000" stroke-width="0.5" font-family="Liberation Serif, serif" textLength="96.5" lengthAdjust="spacingAndGlyphs">(−20,−19],</text>
<text x="730.00" y="45.40" font-size="19.5" text-anchor="start" fill="#000" stroke="#000" stroke-width="0.5" font-family="Liberation Serif, serif" textLength="62" lengthAdjust="spacingAndGlyphs">z=0.12</text>
<line x1="730.40" y1="34.10" x2="739.70" y2="34.10" stroke="#000" stroke-width="1.3" />
<text x="114.50" y="294.60" font-size="19.5" text-anchor="start" fill="#000" stroke="#000" stroke-width="0.5" font-family="Liberation Serif, serif" textLength="95.7" lengthAdjust="spacingAndGlyphs">(−21,−20],</text>
<text x="231.60" y="294.60" font-size="19.5" text-anchor="start" fill="#000" stroke="#000" stroke-width="0.5" font-family="Liberation Serif, serif" textLength="61" lengthAdjust="spacingAndGlyphs">z=0.19</text>
<line x1="232.00" y1="283.30" x2="241.30" y2="283.30" stroke="#000" stroke-width="1.3" />
<text x="363.80" y="294.60" font-size="19.5" text-anchor="start" fill="#000" stroke="#000" stroke-width="0.5" font-family="Liberation Serif, serif" textLength="111.8" lengthAdjust="spacingAndGlyphs">(−21.5,−21],</text>
<text x="497.00" y="294.60" font-size="19.5" text-anchor="start" fill="#000" stroke="#000" stroke-width="0.5" font-family="Liberation Serif, serif" textLength="60.3" lengthAdjust="spacingAndGlyphs">z=0.36</text>
<line x1="497.40" y1="283.30" x2="506.70" y2="283.30" stroke="#000" stroke-width="1.3" />
<text x="612.70" y="294.60" font-size="19.5" text-anchor="start" fill="#000" stroke="#000" stroke-width="0.5" font-family="Liberation Serif, serif" textLength="110.7" lengthAdjust="spacingAndGlyphs">(−22,−21.5],</text>
<text x="745.70" y="294.60" font-size="19.5" text-anchor="start" fill="#000" stroke="#000" stroke-width="0.5" font-family="Liberation Serif, serif" textLength="61.6" lengthAdjust="spacingAndGlyphs">z=0.44</text>
<line x1="746.10" y1="283.30" x2="755.40" y2="283.30" stroke="#000" stroke-width="1.3" />
<text x="114.10" y="543.80" font-size="19.5" text-anchor="start" fill="#000" stroke="#000" stroke-width="0.5" font-family="Liberation Serif, serif" textLength="113.1" lengthAdjust="spacingAndGlyphs">(−22.5,−22],</text>
<text x="247.60" y="543.80" font-size="19.5" text-anchor="start" fill="#000" stroke="#000" stroke-width="0.5" font-family="Liberation Serif, serif" textLength="59" lengthAdjust="spacingAndGlyphs">z=0.51</text>
<line x1="248.00" y1="532.50" x2="257.30" y2="532.50" stroke="#000" stroke-width="1.3" />
<text x="434.80" y="543.80" font-size="19.5" text-anchor="start" fill="#000" stroke="#000" stroke-width="0.5" font-family="Liberation Serif, serif" textLength="105.2" lengthAdjust="spacingAndGlyphs">(−23,−22.5]</text>
<text x="480.50" y="573.80" font-size="19.5" text-anchor="start" fill="#000" stroke="#000" stroke-width="0.5" font-family="Liberation Serif, serif" textLength="60.5" lengthAdjust="spacingAndGlyphs">z=0.59</text>
<line x1="480.90" y1="562.50" x2="490.20" y2="562.50" stroke="#000" stroke-width="1.3" />
<line x1="616.70" y1="611.30" x2="654.80" y2="611.30" stroke="#FF00FF" stroke-width="1.6" />
<text x="655.00" y="617.20" font-size="16.5" text-anchor="start" fill="#FF00FF" stroke="#FF00FF" stroke-width="0.7" font-family="Liberation Serif, serif" textLength="28" lengthAdjust="spacingAndGlyphs">C13</text>
<line x1="616.70" y1="649.70" x2="628.00" y2="649.70" stroke="#FF0000" stroke-width="1.7" />
<line x1="637.70" y1="649.70" x2="648.50" y2="649.70" stroke="#FF0000" stroke-width="1.7" />
<text x="655.00" y="655.70" font-size="16.5" text-anchor="start" fill="#FF0000" stroke="#FF0000" stroke-width="0.7" font-family="Liberation Serif, serif" textLength="28" lengthAdjust="spacingAndGlyphs">C13</text>
<text x="686.00" y="655.70" font-size="16.5" text-anchor="start" fill="#FF0000" stroke="#FF0000" stroke-width="0.7" font-family="Liberation Serif, serif" textLength="30.2" lengthAdjust="spacing">+ΔΣ</text>
<text x="717.6" y="651.0" font-size="9.5" font-weight="bold" fill="#FF0000" stroke="#FF0000" stroke-width="0.4" font-family="Liberation Serif, serif" textLength="18.6" lengthAdjust="spacing">1h,g</text>
<rect x="616.5" y="680.4" width="38.2" height="15.2" fill="#1E90FF"/>
<text x="655.50" y="691.70" font-size="16.5" text-anchor="start" fill="#1E90FF" stroke="#1E90FF" stroke-width="0.7" font-family="Liberation Serif, serif" textLength="47.4" lengthAdjust="spacingAndGlyphs">MCMC,</text>
<text x="712.10" y="691.70" font-size="16.5" text-anchor="start" fill="#1E90FF" stroke="#1E90FF" stroke-width="0.7" font-family="Liberation Serif, serif" textLength="30.6" lengthAdjust="spacing">This</text>
<text x="751.60" y="691.70" font-size="16.5" text-anchor="start" fill="#1E90FF" stroke="#1E90FF" stroke-width="0.7" font-family="Liberation Serif, serif" textLength="44.4" lengthAdjust="spacingAndGlyphs">study</text>
<path d="M616.45,719.6V731.9M613,719.6H619.9M613,731.9H619.9" stroke="#000" stroke-width="1.8" fill="none"/>
<path d="M616.45,723.3 L619.5,727.8 L613.4,727.8 Z" fill="#000"/>
<text x="635.00" y="731.00" font-size="16.5" text-anchor="start" fill="#000" stroke="#000" stroke-width="0.7" font-family="Liberation Serif, serif" textLength="38.2" lengthAdjust="spacingAndGlyphs">RCS2</text>
<text x="682.30" y="731.00" font-size="16.5" text-anchor="start" fill="#000" stroke="#000" stroke-width="0.7" font-family="Liberation Serif, serif" textLength="18.2" lengthAdjust="spacingAndGlyphs">on</text>
<text x="709.50" y="731.00" font-size="16.5" text-anchor="start" fill="#000" stroke="#000" stroke-width="0.7" font-family="Liberation Serif, serif" textLength="82.4" lengthAdjust="spacingAndGlyphs">SDSS(DR9)</text>
</g>
</svg></body></html>
